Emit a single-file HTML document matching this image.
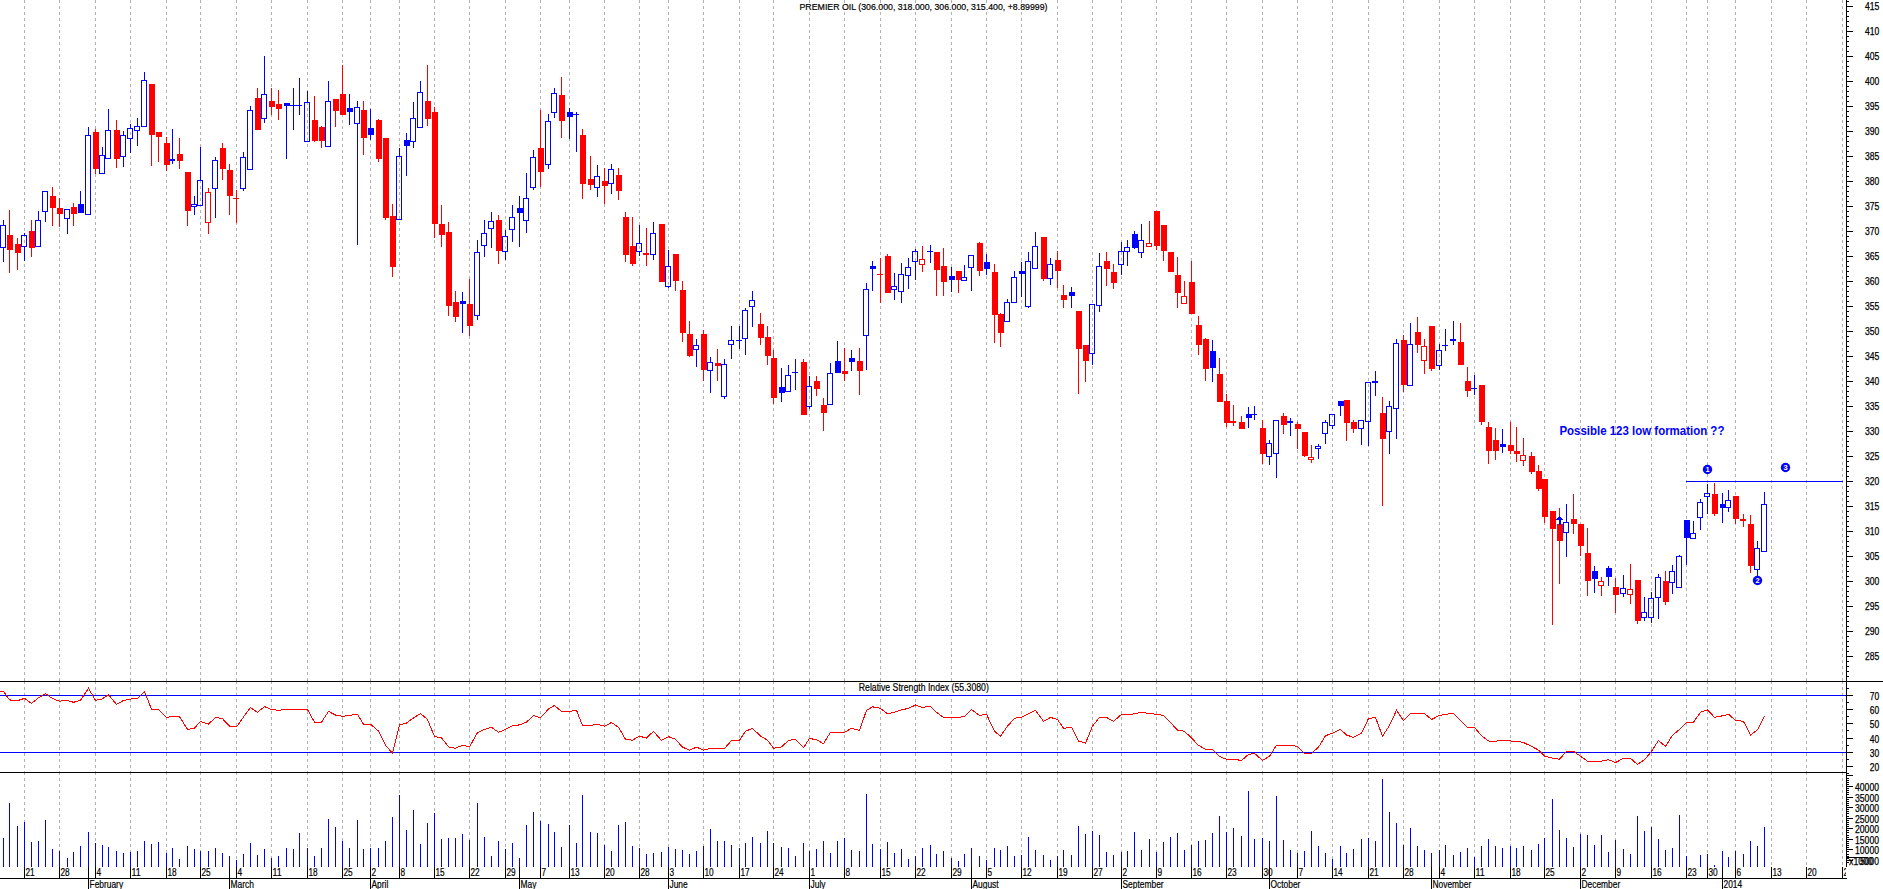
<!DOCTYPE html><html><head><meta charset="utf-8"><title>PREMIER OIL</title><style>html,body{margin:0;padding:0;background:#fff}svg{display:block}</style></head><body><svg width="1883" height="889" viewBox="0 0 1883 889" shape-rendering="crispEdges"><rect width="1883" height="889" fill="#fff"/><path d="M24.5 0V681M24.5 681V772M24.5 772V867 M59.5 0V681M59.5 681V772M59.5 772V867 M95.5 0V681M95.5 681V772M95.5 772V867 M130.5 0V681M130.5 681V772M130.5 772V867 M166.5 0V681M166.5 681V772M166.5 772V867 M200.5 0V681M200.5 681V772M200.5 772V867 M236.5 0V681M236.5 681V772M236.5 772V867 M271.5 0V681M271.5 681V772M271.5 772V867 M307.5 0V681M307.5 681V772M307.5 772V867 M342.5 0V681M342.5 681V772M342.5 772V867 M370.5 0V681M370.5 681V772M370.5 772V867 M399.5 0V681M399.5 681V772M399.5 772V867 M434.5 0V681M434.5 681V772M434.5 772V867 M469.5 0V681M469.5 681V772M469.5 772V867 M505.5 0V681M505.5 681V772M505.5 772V867 M540.5 0V681M540.5 681V772M540.5 772V867 M569.5 0V681M569.5 681V772M569.5 772V867 M604.5 0V681M604.5 681V772M604.5 772V867 M639.5 0V681M639.5 681V772M639.5 772V867 M668.5 0V681M668.5 681V772M668.5 772V867 M703.5 0V681M703.5 681V772M703.5 772V867 M739.5 0V681M739.5 681V772M739.5 772V867 M773.5 0V681M773.5 681V772M773.5 772V867 M809.5 0V681M809.5 681V772M809.5 772V867 M844.5 0V681M844.5 681V772M844.5 772V867 M880.5 0V681M880.5 681V772M880.5 772V867 M915.5 0V681M915.5 681V772M915.5 772V867 M951.5 0V681M951.5 681V772M951.5 772V867 M986.5 0V681M986.5 681V772M986.5 772V867 M1021.5 0V681M1021.5 681V772M1021.5 772V867 M1057.5 0V681M1057.5 681V772M1057.5 772V867 M1092.5 0V681M1092.5 681V772M1092.5 772V867 M1121.5 0V681M1121.5 681V772M1121.5 772V867 M1156.5 0V681M1156.5 681V772M1156.5 772V867 M1191.5 0V681M1191.5 681V772M1191.5 772V867 M1226.5 0V681M1226.5 681V772M1226.5 772V867 M1262.5 0V681M1262.5 681V772M1262.5 772V867 M1297.5 0V681M1297.5 681V772M1297.5 772V867 M1332.5 0V681M1332.5 681V772M1332.5 772V867 M1368.5 0V681M1368.5 681V772M1368.5 772V867 M1403.5 0V681M1403.5 681V772M1403.5 772V867 M1439.5 0V681M1439.5 681V772M1439.5 772V867 M1474.5 0V681M1474.5 681V772M1474.5 772V867 M1510.5 0V681M1510.5 681V772M1510.5 772V867 M1544.5 0V681M1544.5 681V772M1544.5 772V867 M1580.5 0V681M1580.5 681V772M1580.5 772V867 M1615.5 0V681M1615.5 681V772M1615.5 772V867 M1651.5 0V681M1651.5 681V772M1651.5 772V867 M1686.5 0V681M1686.5 681V772M1686.5 772V867 M1707.5 0V681M1707.5 681V772M1707.5 772V867 M1735.5 0V681M1735.5 681V772M1735.5 772V867 M1771.5 0V681M1771.5 681V772M1771.5 772V867 M1806.5 0V681M1806.5 681V772M1806.5 772V867 M1842.5 0V681M1842.5 681V772M1842.5 772V867" stroke="#b2b2b2" stroke-width="1" stroke-dasharray="3 3" fill="none"/><path d="M3.5 838V867 M9.5 803V867 M17.5 826V867 M24.5 822V867 M31.5 842V867 M38.5 841V867 M45.5 820V867 M52.5 849V867 M59.5 851V867 M67.5 858V867 M73.5 852V867 M80.5 846V867 M88.5 832V867 M95.5 843V867 M102.5 845V867 M108.5 847V867 M116.5 851V867 M123.5 853V867 M130.5 852V867 M137.5 851V867 M144.5 841V867 M151.5 844V867 M158.5 842V867 M166.5 853V867 M172.5 848V867 M179.5 859V867 M187.5 846V867 M194.5 849V867 M200.5 851V867 M208.5 851V867 M215.5 848V867 M222.5 853V867 M229.5 856V867 M236.5 860V867 M243.5 854V867 M250.5 843V867 M257.5 855V867 M264.5 849V867 M271.5 858V867 M278.5 856V867 M286.5 848V867 M293.5 849V867 M299.5 833V867 M307.5 848V867 M314.5 856V867 M321.5 848V867 M328.5 819V867 M335.5 827V867 M342.5 841V867 M349.5 848V867 M357.5 820V867 M363.5 849V867 M370.5 848V867 M378.5 848V867 M385.5 841V867 M392.5 817V867 M399.5 795V867 M406.5 830V867 M413.5 810V867 M420.5 844V867 M427.5 823V867 M434.5 813V867 M441.5 839V867 M448.5 838V867 M455.5 838V867 M462.5 834V867 M469.5 840V867 M477.5 803V867 M484.5 837V867 M491.5 856V867 M498.5 841V867 M505.5 849V867 M512.5 843V867 M519.5 858V867 M526.5 825V867 M533.5 812V867 M540.5 821V867 M548.5 824V867 M554.5 832V867 M561.5 847V867 M569.5 825V867 M576.5 843V867 M582.5 795V867 M590.5 832V867 M597.5 833V867 M604.5 845V867 M611.5 851V867 M618.5 825V867 M625.5 822V867 M632.5 846V867 M639.5 848V867 M646.5 854V867 M653.5 853V867 M661.5 852V867 M668.5 847V867 M675.5 849V867 M682.5 850V867 M689.5 854V867 M696.5 851V867 M703.5 846V867 M710.5 829V867 M717.5 841V867 M724.5 841V867 M731.5 845V867 M739.5 848V867 M745.5 843V867 M752.5 837V867 M760.5 843V867 M767.5 831V867 M773.5 843V867 M781.5 847V867 M788.5 848V867 M795.5 856V867 M803.5 843V867 M809.5 851V867 M816.5 849V867 M823.5 841V867 M830.5 853V867 M837.5 841V867 M844.5 838V867 M851.5 850V867 M859.5 851V867 M866.5 794V867 M872.5 844V867 M880.5 849V867 M887.5 842V867 M894.5 853V867 M901.5 849V867 M908.5 859V867 M915.5 856V867 M922.5 848V867 M930.5 845V867 M936.5 854V867 M943.5 851V867 M951.5 858V867 M958.5 861V867 M964.5 854V867 M971.5 848V867 M979.5 856V867 M986.5 860V867 M994.5 848V867 M1000.5 850V867 M1007.5 846V867 M1014.5 856V867 M1021.5 855V867 M1028.5 837V867 M1035.5 850V867 M1043.5 855V867 M1050.5 860V867 M1057.5 856V867 M1063.5 850V867 M1071.5 855V867 M1078.5 826V867 M1085.5 834V867 M1092.5 831V867 M1099.5 835V867 M1106.5 852V867 M1113.5 855V867 M1121.5 852V867 M1127.5 851V867 M1134.5 832V867 M1141.5 850V867 M1149.5 839V867 M1156.5 852V867 M1163.5 842V867 M1170.5 837V867 M1177.5 833V867 M1184.5 850V867 M1191.5 845V867 M1198.5 841V867 M1205.5 840V867 M1212.5 833V867 M1219.5 816V867 M1226.5 832V867 M1233.5 828V867 M1241.5 836V867 M1248.5 791V867 M1254.5 839V867 M1262.5 838V867 M1269.5 841V867 M1276.5 796V867 M1283.5 840V867 M1290.5 850V867 M1297.5 853V867 M1304.5 851V867 M1311.5 831V867 M1318.5 846V867 M1325.5 853V867 M1332.5 859V867 M1340.5 846V867 M1346.5 853V867 M1353.5 849V867 M1361.5 839V867 M1368.5 838V867 M1375.5 841V867 M1382.5 779V867 M1389.5 812V867 M1396.5 823V867 M1403.5 845V867 M1410.5 828V867 M1417.5 846V867 M1424.5 850V867 M1431.5 853V867 M1439.5 850V867 M1445.5 845V867 M1453.5 855V867 M1460.5 852V867 M1467.5 848V867 M1474.5 857V867 M1481.5 846V867 M1488.5 839V867 M1495.5 846V867 M1502.5 848V867 M1510.5 846V867 M1516.5 848V867 M1523.5 846V867 M1531.5 850V867 M1538.5 844V867 M1544.5 838V867 M1552.5 799V867 M1559.5 830V867 M1566.5 838V867 M1573.5 847V867 M1580.5 834V867 M1587.5 835V867 M1594.5 845V867 M1601.5 835V867 M1608.5 852V867 M1615.5 840V867 M1623.5 849V867 M1630.5 854V867 M1637.5 816V867 M1644.5 831V867 M1651.5 827V867 M1658.5 839V867 M1665.5 850V867 M1672.5 848V867 M1679.5 815V867 M1686.5 856V867 M1700.5 855V867 M1707.5 854V867 M1714.5 865V867 M1722.5 851V867 M1728.5 857V867 M1735.5 851V867 M1743.5 854V867 M1750.5 841V867 M1757.5 846V867 M1764.5 827V867" stroke="#0000ff" stroke-width="1" fill="none"/><rect x="0" y="695" width="1846" height="1" fill="#0000ff"/><rect x="0" y="752" width="1846" height="1" fill="#0000ff"/><polyline points="0,691.5 3.5,691.5 9.5,699.9 17.5,700.7 24.5,698.3 31.5,703.4 38.5,697.8 45.5,693.5 52.5,698.6 59.5,701.2 67.5,700.4 73.5,702.3 80.5,700.4 88.5,688.3 95.5,700.4 102.5,698.8 108.5,694.7 116.5,704.4 123.5,700.4 130.5,699.1 137.5,698.3 144.5,691.5 151.5,709.2 158.5,709.5 166.5,717.4 172.5,716.3 179.5,716.6 187.5,729.4 194.5,728.1 200.5,721.4 208.5,724.1 215.5,717.4 222.5,718.7 229.5,726.2 236.5,727.0 243.5,717.0 250.5,707.6 257.5,712.3 264.5,706.6 271.5,709.5 278.5,710.3 286.5,709.5 293.5,709.5 299.5,709.5 307.5,709.5 314.5,722.2 321.5,722.2 328.5,711.4 335.5,715.0 342.5,716.3 349.5,715.4 357.5,714.3 363.5,724.3 370.5,724.3 378.5,731.0 385.5,745.3 392.5,753.3 399.5,724.9 406.5,723.0 413.5,717.9 420.5,713.5 427.5,719.5 434.5,736.6 441.5,737.7 448.5,746.9 455.5,748.2 462.5,745.3 469.5,746.9 477.5,732.6 484.5,729.4 491.5,727.3 498.5,732.3 505.5,729.4 512.5,725.7 519.5,724.9 526.5,722.2 533.5,715.4 540.5,717.8 548.5,709.0 554.5,705.5 561.5,711.4 569.5,711.4 576.5,710.3 582.5,725.4 590.5,725.4 597.5,724.3 604.5,726.2 611.5,722.5 618.5,727.3 625.5,739.3 632.5,740.2 639.5,736.2 646.5,738.1 653.5,731.3 661.5,740.5 668.5,736.6 675.5,739.3 682.5,747.2 689.5,750.1 696.5,747.2 703.5,750.1 710.5,748.5 717.5,748.5 724.5,748.5 731.5,740.5 739.5,740.2 745.5,731.3 752.5,728.3 760.5,736.1 767.5,740.2 773.5,748.2 781.5,746.9 788.5,740.5 795.5,739.3 803.5,747.7 809.5,738.5 816.5,739.7 823.5,743.7 830.5,732.3 837.5,732.3 844.5,732.3 851.5,728.3 859.5,730.5 866.5,710.3 872.5,706.8 880.5,708.4 887.5,713.9 894.5,712.3 901.5,709.8 908.5,708.4 915.5,705.0 922.5,707.4 930.5,706.3 936.5,712.3 943.5,717.4 951.5,717.4 958.5,717.4 964.5,716.3 971.5,709.5 979.5,715.4 986.5,714.3 994.5,731.3 1000.5,736.2 1007.5,726.2 1014.5,718.2 1021.5,717.4 1028.5,713.9 1035.5,710.3 1043.5,721.4 1050.5,717.4 1057.5,719.5 1063.5,728.3 1071.5,727.3 1078.5,741.0 1085.5,743.2 1092.5,726.2 1099.5,717.4 1106.5,717.4 1113.5,721.4 1121.5,714.3 1127.5,714.3 1134.5,713.9 1141.5,712.3 1149.5,713.5 1156.5,714.3 1163.5,715.4 1170.5,722.5 1177.5,730.2 1184.5,731.3 1191.5,738.1 1198.5,745.3 1205.5,749.3 1212.5,749.3 1219.5,756.5 1226.5,759.2 1233.5,759.2 1241.5,760.5 1248.5,754.4 1254.5,753.3 1262.5,760.5 1269.5,756.2 1276.5,745.3 1283.5,745.3 1290.5,745.3 1297.5,746.4 1304.5,753.3 1311.5,753.3 1318.5,747.2 1325.5,735.8 1332.5,733.1 1340.5,729.4 1346.5,735.0 1353.5,737.4 1361.5,733.1 1368.5,718.6 1375.5,717.4 1382.5,736.2 1389.5,725.4 1396.5,710.3 1403.5,720.6 1410.5,713.5 1417.5,713.5 1424.5,713.5 1431.5,719.5 1439.5,715.4 1445.5,714.3 1453.5,713.5 1460.5,720.6 1467.5,727.3 1474.5,727.3 1481.5,735.8 1488.5,741.0 1495.5,741.3 1502.5,740.2 1510.5,741.0 1516.5,741.3 1523.5,742.5 1531.5,746.4 1538.5,750.1 1544.5,756.2 1552.5,758.1 1559.5,759.2 1566.5,751.4 1573.5,751.4 1580.5,756.2 1587.5,761.2 1594.5,761.2 1601.5,761.2 1608.5,759.7 1615.5,762.5 1623.5,758.4 1630.5,758.4 1637.5,764.4 1644.5,759.7 1651.5,751.4 1658.5,740.5 1665.5,746.4 1672.5,735.3 1679.5,729.4 1686.5,722.5 1693.5,722.2 1700.5,712.3 1707.5,709.8 1714.5,717.4 1722.5,715.8 1728.5,714.3 1735.5,720.3 1743.5,721.4 1750.5,735.0 1757.5,729.7 1764.5,716.2" stroke="#ff0000" stroke-width="1" fill="none" shape-rendering="crispEdges"/><rect x="3" y="220" width="1" height="5" fill="#0000ff"/><rect x="3" y="248" width="1" height="14" fill="#0000ff"/><rect x="0.5" y="225.5" width="5" height="22" fill="none" stroke="#0000ff" stroke-width="1"/><rect x="9" y="210" width="1" height="63" fill="#ff0000"/><rect x="7" y="235" width="6" height="15" fill="#ff0000"/><rect x="17" y="238" width="1" height="32" fill="#ff0000"/><rect x="15" y="244" width="6" height="9" fill="#ff0000"/><rect x="24" y="233" width="1" height="2" fill="#0000ff"/><rect x="24" y="247" width="1" height="14" fill="#0000ff"/><rect x="21.5" y="235.5" width="5" height="11" fill="none" stroke="#0000ff" stroke-width="1"/><rect x="31" y="220" width="1" height="37" fill="#ff0000"/><rect x="29" y="231" width="6" height="17" fill="#ff0000"/><rect x="38" y="211" width="1" height="9" fill="#0000ff"/><rect x="35.5" y="220.5" width="5" height="26" fill="none" stroke="#0000ff" stroke-width="1"/><rect x="45" y="212" width="1" height="10" fill="#0000ff"/><rect x="42.5" y="191.5" width="5" height="20" fill="none" stroke="#0000ff" stroke-width="1"/><rect x="52" y="187" width="1" height="39" fill="#ff0000"/><rect x="50" y="196" width="6" height="12" fill="#ff0000"/><rect x="59" y="198" width="1" height="29" fill="#ff0000"/><rect x="57" y="208" width="6" height="6" fill="#ff0000"/><rect x="67" y="219" width="1" height="15" fill="#0000ff"/><rect x="64.5" y="209.5" width="5" height="9" fill="none" stroke="#0000ff" stroke-width="1"/><rect x="73" y="203" width="1" height="23" fill="#ff0000"/><rect x="71" y="207" width="6" height="7" fill="#ff0000"/><rect x="80" y="191" width="1" height="22" fill="#0000ff"/><rect x="78" y="204" width="6" height="9" fill="#0000ff"/><rect x="88" y="127" width="1" height="8" fill="#0000ff"/><rect x="85.5" y="135.5" width="5" height="79" fill="none" stroke="#0000ff" stroke-width="1"/><rect x="95" y="129" width="1" height="45" fill="#ff0000"/><rect x="93" y="132" width="6" height="37" fill="#ff0000"/><rect x="102" y="147" width="1" height="8" fill="#0000ff"/><rect x="99.5" y="155.5" width="5" height="18" fill="none" stroke="#0000ff" stroke-width="1"/><rect x="108" y="109" width="1" height="21" fill="#0000ff"/><rect x="105.5" y="130.5" width="5" height="28" fill="none" stroke="#0000ff" stroke-width="1"/><rect x="116" y="120" width="1" height="48" fill="#ff0000"/><rect x="114" y="130" width="6" height="29" fill="#ff0000"/><rect x="123" y="131" width="1" height="4" fill="#0000ff"/><rect x="123" y="157" width="1" height="10" fill="#0000ff"/><rect x="120.5" y="135.5" width="5" height="21" fill="none" stroke="#0000ff" stroke-width="1"/><rect x="130" y="124" width="1" height="4" fill="#0000ff"/><rect x="130" y="139" width="1" height="14" fill="#0000ff"/><rect x="127.5" y="128.5" width="5" height="10" fill="none" stroke="#0000ff" stroke-width="1"/><rect x="137" y="118" width="1" height="8" fill="#0000ff"/><rect x="137" y="131" width="1" height="15" fill="#0000ff"/><rect x="134.5" y="126.5" width="5" height="4" fill="none" stroke="#0000ff" stroke-width="1"/><rect x="144" y="72" width="1" height="8" fill="#0000ff"/><rect x="141.5" y="80.5" width="5" height="46" fill="none" stroke="#0000ff" stroke-width="1"/><rect x="151" y="84" width="1" height="82" fill="#ff0000"/><rect x="149" y="84" width="6" height="51" fill="#ff0000"/><rect x="158" y="132" width="1" height="30" fill="#ff0000"/><rect x="156" y="132" width="6" height="5" fill="#ff0000"/><rect x="166" y="137" width="1" height="34" fill="#ff0000"/><rect x="164" y="143" width="6" height="22" fill="#ff0000"/><rect x="172" y="129" width="1" height="35" fill="#0000ff"/><rect x="169" y="159" width="6" height="2" fill="#0000ff"/><rect x="179" y="138" width="1" height="31" fill="#ff0000"/><rect x="177" y="154" width="6" height="7" fill="#ff0000"/><rect x="187" y="172" width="1" height="54" fill="#ff0000"/><rect x="185" y="172" width="6" height="39" fill="#ff0000"/><rect x="194" y="196" width="1" height="8" fill="#0000ff"/><rect x="194" y="207" width="1" height="8" fill="#0000ff"/><rect x="191.5" y="204.5" width="5" height="2" fill="none" stroke="#0000ff" stroke-width="1"/><rect x="200" y="147" width="1" height="33" fill="#0000ff"/><rect x="197.5" y="180.5" width="5" height="25" fill="none" stroke="#0000ff" stroke-width="1"/><rect x="208" y="188" width="1" height="4" fill="#ff0000"/><rect x="208" y="223" width="1" height="11" fill="#ff0000"/><rect x="205.5" y="192.5" width="5" height="30" fill="none" stroke="#ff0000" stroke-width="1"/><rect x="215" y="157" width="1" height="3" fill="#0000ff"/><rect x="215" y="189" width="1" height="29" fill="#0000ff"/><rect x="212.5" y="160.5" width="5" height="28" fill="none" stroke="#0000ff" stroke-width="1"/><rect x="222" y="143" width="1" height="37" fill="#ff0000"/><rect x="220" y="148" width="6" height="21" fill="#ff0000"/><rect x="229" y="164" width="1" height="51" fill="#ff0000"/><rect x="227" y="170" width="6" height="26" fill="#ff0000"/><rect x="236" y="190" width="1" height="33" fill="#ff0000"/><rect x="233" y="198" width="6" height="1" fill="#ff0000"/><rect x="243" y="152" width="1" height="5" fill="#0000ff"/><rect x="243" y="189" width="1" height="2" fill="#0000ff"/><rect x="240.5" y="157.5" width="5" height="31" fill="none" stroke="#0000ff" stroke-width="1"/><rect x="250" y="106" width="1" height="4" fill="#0000ff"/><rect x="247.5" y="110.5" width="5" height="59" fill="none" stroke="#0000ff" stroke-width="1"/><rect x="257" y="88" width="1" height="42" fill="#ff0000"/><rect x="255" y="98" width="6" height="32" fill="#ff0000"/><rect x="264" y="56" width="1" height="38" fill="#0000ff"/><rect x="264" y="119" width="1" height="4" fill="#0000ff"/><rect x="261.5" y="94.5" width="5" height="24" fill="none" stroke="#0000ff" stroke-width="1"/><rect x="271" y="88" width="1" height="27" fill="#ff0000"/><rect x="269" y="101" width="6" height="6" fill="#ff0000"/><rect x="278" y="90" width="1" height="30" fill="#ff0000"/><rect x="276" y="104" width="6" height="5" fill="#ff0000"/><rect x="286" y="103" width="1" height="56" fill="#0000ff"/><rect x="284" y="103" width="6" height="3" fill="#0000ff"/><rect x="293" y="88" width="1" height="42" fill="#0000ff"/><rect x="290" y="105" width="6" height="1" fill="#0000ff"/><rect x="299" y="78" width="1" height="37" fill="#0000ff"/><rect x="296" y="105" width="6" height="1" fill="#0000ff"/><rect x="307" y="91" width="1" height="11" fill="#0000ff"/><rect x="304.5" y="102.5" width="5" height="39" fill="none" stroke="#0000ff" stroke-width="1"/><rect x="314" y="96" width="1" height="46" fill="#ff0000"/><rect x="312" y="120" width="6" height="21" fill="#ff0000"/><rect x="321" y="126" width="1" height="22" fill="#ff0000"/><rect x="319" y="127" width="6" height="14" fill="#ff0000"/><rect x="328" y="81" width="1" height="20" fill="#0000ff"/><rect x="325.5" y="101.5" width="5" height="45" fill="none" stroke="#0000ff" stroke-width="1"/><rect x="335" y="99" width="1" height="28" fill="#ff0000"/><rect x="333" y="99" width="6" height="12" fill="#ff0000"/><rect x="342" y="65" width="1" height="50" fill="#ff0000"/><rect x="340" y="94" width="6" height="21" fill="#ff0000"/><rect x="349" y="94" width="1" height="31" fill="#0000ff"/><rect x="347" y="108" width="6" height="4" fill="#0000ff"/><rect x="357" y="101" width="1" height="6" fill="#0000ff"/><rect x="357" y="124" width="1" height="121" fill="#0000ff"/><rect x="354.5" y="107.5" width="5" height="16" fill="none" stroke="#0000ff" stroke-width="1"/><rect x="363" y="101" width="1" height="54" fill="#ff0000"/><rect x="361" y="110" width="6" height="28" fill="#ff0000"/><rect x="370" y="109" width="1" height="31" fill="#0000ff"/><rect x="368" y="128" width="6" height="7" fill="#0000ff"/><rect x="378" y="119" width="1" height="43" fill="#ff0000"/><rect x="376" y="120" width="6" height="39" fill="#ff0000"/><rect x="385" y="138" width="1" height="82" fill="#ff0000"/><rect x="383" y="138" width="6" height="80" fill="#ff0000"/><rect x="392" y="204" width="1" height="73" fill="#ff0000"/><rect x="390" y="216" width="6" height="51" fill="#ff0000"/><rect x="399" y="148" width="1" height="8" fill="#0000ff"/><rect x="396.5" y="156.5" width="5" height="63" fill="none" stroke="#0000ff" stroke-width="1"/><rect x="406" y="133" width="1" height="43" fill="#0000ff"/><rect x="404" y="140" width="6" height="6" fill="#0000ff"/><rect x="413" y="102" width="1" height="16" fill="#0000ff"/><rect x="413" y="142" width="1" height="6" fill="#0000ff"/><rect x="410.5" y="118.5" width="5" height="23" fill="none" stroke="#0000ff" stroke-width="1"/><rect x="420" y="81" width="1" height="11" fill="#0000ff"/><rect x="417.5" y="92.5" width="5" height="35" fill="none" stroke="#0000ff" stroke-width="1"/><rect x="427" y="65" width="1" height="61" fill="#ff0000"/><rect x="425" y="101" width="6" height="18" fill="#ff0000"/><rect x="434" y="107" width="1" height="131" fill="#ff0000"/><rect x="432" y="112" width="6" height="112" fill="#ff0000"/><rect x="441" y="205" width="1" height="42" fill="#ff0000"/><rect x="439" y="224" width="6" height="11" fill="#ff0000"/><rect x="448" y="222" width="1" height="94" fill="#ff0000"/><rect x="446" y="232" width="6" height="74" fill="#ff0000"/><rect x="455" y="291" width="1" height="31" fill="#ff0000"/><rect x="453" y="302" width="6" height="15" fill="#ff0000"/><rect x="462" y="292" width="1" height="41" fill="#0000ff"/><rect x="460" y="301" width="6" height="3" fill="#0000ff"/><rect x="469" y="279" width="1" height="57" fill="#ff0000"/><rect x="467" y="304" width="6" height="22" fill="#ff0000"/><rect x="477" y="240" width="1" height="12" fill="#0000ff"/><rect x="477" y="316" width="1" height="4" fill="#0000ff"/><rect x="474.5" y="252.5" width="5" height="63" fill="none" stroke="#0000ff" stroke-width="1"/><rect x="484" y="220" width="1" height="13" fill="#0000ff"/><rect x="484" y="246" width="1" height="11" fill="#0000ff"/><rect x="481.5" y="233.5" width="5" height="12" fill="none" stroke="#0000ff" stroke-width="1"/><rect x="491" y="212" width="1" height="9" fill="#0000ff"/><rect x="491" y="229" width="1" height="19" fill="#0000ff"/><rect x="488.5" y="221.5" width="5" height="7" fill="none" stroke="#0000ff" stroke-width="1"/><rect x="498" y="215" width="1" height="49" fill="#ff0000"/><rect x="496" y="220" width="6" height="31" fill="#ff0000"/><rect x="505" y="230" width="1" height="6" fill="#0000ff"/><rect x="505" y="252" width="1" height="8" fill="#0000ff"/><rect x="502.5" y="236.5" width="5" height="15" fill="none" stroke="#0000ff" stroke-width="1"/><rect x="512" y="205" width="1" height="12" fill="#0000ff"/><rect x="512" y="230" width="1" height="12" fill="#0000ff"/><rect x="509.5" y="217.5" width="5" height="12" fill="none" stroke="#0000ff" stroke-width="1"/><rect x="519" y="196" width="1" height="51" fill="#0000ff"/><rect x="517" y="208" width="6" height="5" fill="#0000ff"/><rect x="526" y="173" width="1" height="25" fill="#0000ff"/><rect x="526" y="221" width="1" height="12" fill="#0000ff"/><rect x="523.5" y="198.5" width="5" height="22" fill="none" stroke="#0000ff" stroke-width="1"/><rect x="533" y="150" width="1" height="7" fill="#0000ff"/><rect x="533" y="188" width="1" height="2" fill="#0000ff"/><rect x="530.5" y="157.5" width="5" height="30" fill="none" stroke="#0000ff" stroke-width="1"/><rect x="540" y="110" width="1" height="77" fill="#ff0000"/><rect x="538" y="148" width="6" height="24" fill="#ff0000"/><rect x="548" y="114" width="1" height="7" fill="#0000ff"/><rect x="548" y="165" width="1" height="4" fill="#0000ff"/><rect x="545.5" y="121.5" width="5" height="43" fill="none" stroke="#0000ff" stroke-width="1"/><rect x="554" y="88" width="1" height="5" fill="#0000ff"/><rect x="554" y="113" width="1" height="5" fill="#0000ff"/><rect x="551.5" y="93.5" width="5" height="19" fill="none" stroke="#0000ff" stroke-width="1"/><rect x="561" y="77" width="1" height="61" fill="#ff0000"/><rect x="559" y="95" width="6" height="26" fill="#ff0000"/><rect x="569" y="108" width="1" height="31" fill="#0000ff"/><rect x="567" y="112" width="6" height="5" fill="#0000ff"/><rect x="576" y="112" width="1" height="40" fill="#0000ff"/><rect x="573" y="114" width="6" height="1" fill="#0000ff"/><rect x="582" y="129" width="1" height="70" fill="#ff0000"/><rect x="580" y="135" width="6" height="49" fill="#ff0000"/><rect x="590" y="156" width="1" height="34" fill="#ff0000"/><rect x="588" y="179" width="6" height="6" fill="#ff0000"/><rect x="597" y="165" width="1" height="11" fill="#0000ff"/><rect x="597" y="188" width="1" height="9" fill="#0000ff"/><rect x="594.5" y="176.5" width="5" height="11" fill="none" stroke="#0000ff" stroke-width="1"/><rect x="604" y="168" width="1" height="36" fill="#ff0000"/><rect x="602" y="181" width="6" height="5" fill="#ff0000"/><rect x="611" y="164" width="1" height="5" fill="#0000ff"/><rect x="611" y="184" width="1" height="10" fill="#0000ff"/><rect x="608.5" y="169.5" width="5" height="14" fill="none" stroke="#0000ff" stroke-width="1"/><rect x="618" y="168" width="1" height="32" fill="#ff0000"/><rect x="616" y="175" width="6" height="16" fill="#ff0000"/><rect x="625" y="212" width="1" height="50" fill="#ff0000"/><rect x="623" y="217" width="6" height="38" fill="#ff0000"/><rect x="632" y="217" width="1" height="49" fill="#ff0000"/><rect x="630" y="246" width="6" height="18" fill="#ff0000"/><rect x="639" y="225" width="1" height="18" fill="#0000ff"/><rect x="639" y="252" width="1" height="4" fill="#0000ff"/><rect x="636.5" y="243.5" width="5" height="8" fill="none" stroke="#0000ff" stroke-width="1"/><rect x="646" y="228" width="1" height="38" fill="#ff0000"/><rect x="643" y="253" width="6" height="2" fill="#ff0000"/><rect x="653" y="222" width="1" height="11" fill="#0000ff"/><rect x="653" y="255" width="1" height="5" fill="#0000ff"/><rect x="650.5" y="233.5" width="5" height="21" fill="none" stroke="#0000ff" stroke-width="1"/><rect x="661" y="224" width="1" height="58" fill="#ff0000"/><rect x="659" y="224" width="6" height="58" fill="#ff0000"/><rect x="668" y="250" width="1" height="16" fill="#0000ff"/><rect x="668" y="287" width="1" height="1" fill="#0000ff"/><rect x="665.5" y="266.5" width="5" height="20" fill="none" stroke="#0000ff" stroke-width="1"/><rect x="675" y="254" width="1" height="37" fill="#ff0000"/><rect x="673" y="254" width="6" height="27" fill="#ff0000"/><rect x="682" y="281" width="1" height="61" fill="#ff0000"/><rect x="680" y="290" width="6" height="43" fill="#ff0000"/><rect x="689" y="321" width="1" height="36" fill="#ff0000"/><rect x="687" y="334" width="6" height="22" fill="#ff0000"/><rect x="696" y="339" width="1" height="6" fill="#0000ff"/><rect x="696" y="350" width="1" height="17" fill="#0000ff"/><rect x="693.5" y="345.5" width="5" height="4" fill="none" stroke="#0000ff" stroke-width="1"/><rect x="703" y="330" width="1" height="51" fill="#ff0000"/><rect x="701" y="334" width="6" height="36" fill="#ff0000"/><rect x="710" y="357" width="1" height="5" fill="#0000ff"/><rect x="710" y="371" width="1" height="22" fill="#0000ff"/><rect x="707.5" y="362.5" width="5" height="8" fill="none" stroke="#0000ff" stroke-width="1"/><rect x="717" y="349" width="1" height="32" fill="#ff0000"/><rect x="715" y="363" width="6" height="3" fill="#ff0000"/><rect x="724" y="359" width="1" height="5" fill="#0000ff"/><rect x="724" y="397" width="1" height="2" fill="#0000ff"/><rect x="721.5" y="364.5" width="5" height="32" fill="none" stroke="#0000ff" stroke-width="1"/><rect x="731" y="326" width="1" height="14" fill="#0000ff"/><rect x="731" y="345" width="1" height="14" fill="#0000ff"/><rect x="728.5" y="340.5" width="5" height="4" fill="none" stroke="#0000ff" stroke-width="1"/><rect x="739" y="326" width="1" height="23" fill="#0000ff"/><rect x="736" y="340" width="6" height="1" fill="#0000ff"/><rect x="745" y="308" width="1" height="2" fill="#0000ff"/><rect x="745" y="339" width="1" height="16" fill="#0000ff"/><rect x="742.5" y="310.5" width="5" height="28" fill="none" stroke="#0000ff" stroke-width="1"/><rect x="752" y="291" width="1" height="9" fill="#0000ff"/><rect x="752" y="307" width="1" height="20" fill="#0000ff"/><rect x="749.5" y="300.5" width="5" height="6" fill="none" stroke="#0000ff" stroke-width="1"/><rect x="760" y="313" width="1" height="32" fill="#ff0000"/><rect x="758" y="324" width="6" height="14" fill="#ff0000"/><rect x="767" y="326" width="1" height="39" fill="#ff0000"/><rect x="765" y="337" width="6" height="19" fill="#ff0000"/><rect x="773" y="350" width="1" height="54" fill="#ff0000"/><rect x="771" y="358" width="6" height="40" fill="#ff0000"/><rect x="781" y="368" width="1" height="34" fill="#0000ff"/><rect x="779" y="387" width="6" height="6" fill="#0000ff"/><rect x="788" y="365" width="1" height="10" fill="#0000ff"/><rect x="785.5" y="375.5" width="5" height="16" fill="none" stroke="#0000ff" stroke-width="1"/><rect x="795" y="359" width="1" height="31" fill="#0000ff"/><rect x="792" y="372" width="6" height="1" fill="#0000ff"/><rect x="803" y="359" width="1" height="56" fill="#ff0000"/><rect x="801" y="362" width="6" height="53" fill="#ff0000"/><rect x="809" y="376" width="1" height="10" fill="#0000ff"/><rect x="809" y="407" width="1" height="2" fill="#0000ff"/><rect x="806.5" y="386.5" width="5" height="20" fill="none" stroke="#0000ff" stroke-width="1"/><rect x="816" y="376" width="1" height="20" fill="#ff0000"/><rect x="814" y="381" width="6" height="8" fill="#ff0000"/><rect x="823" y="398" width="1" height="33" fill="#ff0000"/><rect x="821" y="405" width="6" height="8" fill="#ff0000"/><rect x="830" y="363" width="1" height="10" fill="#0000ff"/><rect x="827.5" y="373.5" width="5" height="31" fill="none" stroke="#0000ff" stroke-width="1"/><rect x="837" y="341" width="1" height="32" fill="#0000ff"/><rect x="835" y="361" width="6" height="12" fill="#0000ff"/><rect x="844" y="348" width="1" height="33" fill="#ff0000"/><rect x="842" y="371" width="6" height="3" fill="#ff0000"/><rect x="851" y="350" width="1" height="21" fill="#0000ff"/><rect x="849" y="358" width="6" height="4" fill="#0000ff"/><rect x="859" y="348" width="1" height="47" fill="#ff0000"/><rect x="857" y="361" width="6" height="10" fill="#ff0000"/><rect x="866" y="283" width="1" height="6" fill="#0000ff"/><rect x="866" y="336" width="1" height="34" fill="#0000ff"/><rect x="863.5" y="289.5" width="5" height="46" fill="none" stroke="#0000ff" stroke-width="1"/><rect x="872" y="261" width="1" height="30" fill="#0000ff"/><rect x="870" y="266" width="6" height="3" fill="#0000ff"/><rect x="880" y="258" width="1" height="45" fill="#ff0000"/><rect x="877" y="274" width="6" height="1" fill="#ff0000"/><rect x="887" y="254" width="1" height="39" fill="#ff0000"/><rect x="885" y="256" width="6" height="37" fill="#ff0000"/><rect x="894" y="273" width="1" height="13" fill="#0000ff"/><rect x="894" y="290" width="1" height="10" fill="#0000ff"/><rect x="891.5" y="286.5" width="5" height="3" fill="none" stroke="#0000ff" stroke-width="1"/><rect x="901" y="263" width="1" height="11" fill="#0000ff"/><rect x="901" y="292" width="1" height="11" fill="#0000ff"/><rect x="898.5" y="274.5" width="5" height="17" fill="none" stroke="#0000ff" stroke-width="1"/><rect x="908" y="258" width="1" height="9" fill="#0000ff"/><rect x="908" y="276" width="1" height="13" fill="#0000ff"/><rect x="905.5" y="267.5" width="5" height="8" fill="none" stroke="#0000ff" stroke-width="1"/><rect x="915" y="249" width="1" height="2" fill="#0000ff"/><rect x="915" y="262" width="1" height="18" fill="#0000ff"/><rect x="912.5" y="251.5" width="5" height="10" fill="none" stroke="#0000ff" stroke-width="1"/><rect x="922" y="246" width="1" height="13" fill="#ff0000"/><rect x="922" y="265" width="1" height="7" fill="#ff0000"/><rect x="919.5" y="259.5" width="5" height="5" fill="none" stroke="#ff0000" stroke-width="1"/><rect x="930" y="245" width="1" height="18" fill="#0000ff"/><rect x="927" y="251" width="6" height="1" fill="#0000ff"/><rect x="936" y="252" width="1" height="44" fill="#ff0000"/><rect x="934" y="252" width="6" height="18" fill="#ff0000"/><rect x="943" y="248" width="1" height="48" fill="#ff0000"/><rect x="941" y="266" width="6" height="16" fill="#ff0000"/><rect x="951" y="267" width="1" height="25" fill="#0000ff"/><rect x="949" y="276" width="6" height="4" fill="#0000ff"/><rect x="958" y="271" width="1" height="22" fill="#ff0000"/><rect x="956" y="271" width="6" height="9" fill="#ff0000"/><rect x="964" y="265" width="1" height="12" fill="#0000ff"/><rect x="961.5" y="277.5" width="5" height="3" fill="none" stroke="#0000ff" stroke-width="1"/><rect x="971" y="268" width="1" height="23" fill="#0000ff"/><rect x="968.5" y="255.5" width="5" height="12" fill="none" stroke="#0000ff" stroke-width="1"/><rect x="979" y="242" width="1" height="34" fill="#ff0000"/><rect x="977" y="243" width="6" height="28" fill="#ff0000"/><rect x="986" y="254" width="1" height="21" fill="#0000ff"/><rect x="984" y="262" width="6" height="7" fill="#0000ff"/><rect x="994" y="264" width="1" height="79" fill="#ff0000"/><rect x="992" y="272" width="6" height="43" fill="#ff0000"/><rect x="1000" y="313" width="1" height="34" fill="#ff0000"/><rect x="998" y="314" width="6" height="19" fill="#ff0000"/><rect x="1007" y="299" width="1" height="3" fill="#0000ff"/><rect x="1004.5" y="302.5" width="5" height="19" fill="none" stroke="#0000ff" stroke-width="1"/><rect x="1014" y="271" width="1" height="6" fill="#0000ff"/><rect x="1011.5" y="277.5" width="5" height="25" fill="none" stroke="#0000ff" stroke-width="1"/><rect x="1021" y="262" width="1" height="35" fill="#0000ff"/><rect x="1019" y="271" width="6" height="3" fill="#0000ff"/><rect x="1028" y="252" width="1" height="9" fill="#0000ff"/><rect x="1028" y="307" width="1" height="1" fill="#0000ff"/><rect x="1025.5" y="261.5" width="5" height="45" fill="none" stroke="#0000ff" stroke-width="1"/><rect x="1035" y="232" width="1" height="14" fill="#0000ff"/><rect x="1032.5" y="246.5" width="5" height="22" fill="none" stroke="#0000ff" stroke-width="1"/><rect x="1043" y="237" width="1" height="44" fill="#ff0000"/><rect x="1041" y="237" width="6" height="42" fill="#ff0000"/><rect x="1050" y="258" width="1" height="6" fill="#0000ff"/><rect x="1050" y="279" width="1" height="6" fill="#0000ff"/><rect x="1047.5" y="264.5" width="5" height="14" fill="none" stroke="#0000ff" stroke-width="1"/><rect x="1057" y="251" width="1" height="37" fill="#ff0000"/><rect x="1055" y="260" width="6" height="11" fill="#ff0000"/><rect x="1063" y="285" width="1" height="23" fill="#ff0000"/><rect x="1061" y="295" width="6" height="5" fill="#ff0000"/><rect x="1071" y="287" width="1" height="21" fill="#0000ff"/><rect x="1069" y="292" width="6" height="4" fill="#0000ff"/><rect x="1078" y="311" width="1" height="83" fill="#ff0000"/><rect x="1076" y="311" width="6" height="38" fill="#ff0000"/><rect x="1085" y="345" width="1" height="37" fill="#ff0000"/><rect x="1083" y="345" width="6" height="16" fill="#ff0000"/><rect x="1092" y="354" width="1" height="11" fill="#0000ff"/><rect x="1089.5" y="304.5" width="5" height="49" fill="none" stroke="#0000ff" stroke-width="1"/><rect x="1099" y="253" width="1" height="13" fill="#0000ff"/><rect x="1099" y="306" width="1" height="6" fill="#0000ff"/><rect x="1096.5" y="266.5" width="5" height="39" fill="none" stroke="#0000ff" stroke-width="1"/><rect x="1106" y="252" width="1" height="34" fill="#ff0000"/><rect x="1104" y="261" width="6" height="8" fill="#ff0000"/><rect x="1113" y="264" width="1" height="25" fill="#ff0000"/><rect x="1111" y="272" width="6" height="11" fill="#ff0000"/><rect x="1121" y="242" width="1" height="9" fill="#0000ff"/><rect x="1121" y="265" width="1" height="10" fill="#0000ff"/><rect x="1118.5" y="251.5" width="5" height="13" fill="none" stroke="#0000ff" stroke-width="1"/><rect x="1127" y="240" width="1" height="7" fill="#0000ff"/><rect x="1127" y="252" width="1" height="14" fill="#0000ff"/><rect x="1124.5" y="247.5" width="5" height="4" fill="none" stroke="#0000ff" stroke-width="1"/><rect x="1134" y="231" width="1" height="18" fill="#0000ff"/><rect x="1132" y="234" width="6" height="14" fill="#0000ff"/><rect x="1141" y="224" width="1" height="16" fill="#0000ff"/><rect x="1141" y="253" width="1" height="5" fill="#0000ff"/><rect x="1138.5" y="240.5" width="5" height="12" fill="none" stroke="#0000ff" stroke-width="1"/><rect x="1149" y="221" width="1" height="22" fill="#ff0000"/><rect x="1146.5" y="243.5" width="5" height="3" fill="none" stroke="#ff0000" stroke-width="1"/><rect x="1156" y="211" width="1" height="39" fill="#ff0000"/><rect x="1154" y="211" width="6" height="35" fill="#ff0000"/><rect x="1163" y="225" width="1" height="36" fill="#ff0000"/><rect x="1161" y="225" width="6" height="26" fill="#ff0000"/><rect x="1170" y="252" width="1" height="20" fill="#ff0000"/><rect x="1168" y="252" width="6" height="20" fill="#ff0000"/><rect x="1177" y="257" width="1" height="51" fill="#ff0000"/><rect x="1175" y="275" width="6" height="18" fill="#ff0000"/><rect x="1184" y="281" width="1" height="15" fill="#ff0000"/><rect x="1181.5" y="296.5" width="5" height="7" fill="none" stroke="#ff0000" stroke-width="1"/><rect x="1191" y="261" width="1" height="53" fill="#ff0000"/><rect x="1189" y="282" width="6" height="32" fill="#ff0000"/><rect x="1198" y="316" width="1" height="39" fill="#ff0000"/><rect x="1196" y="325" width="6" height="20" fill="#ff0000"/><rect x="1205" y="338" width="1" height="43" fill="#ff0000"/><rect x="1203" y="339" width="6" height="30" fill="#ff0000"/><rect x="1212" y="340" width="1" height="42" fill="#0000ff"/><rect x="1210" y="351" width="6" height="17" fill="#0000ff"/><rect x="1219" y="358" width="1" height="44" fill="#ff0000"/><rect x="1217" y="374" width="6" height="28" fill="#ff0000"/><rect x="1226" y="394" width="1" height="33" fill="#ff0000"/><rect x="1224" y="401" width="6" height="22" fill="#ff0000"/><rect x="1233" y="405" width="1" height="21" fill="#ff0000"/><rect x="1230" y="421" width="6" height="2" fill="#ff0000"/><rect x="1241" y="416" width="1" height="13" fill="#ff0000"/><rect x="1239" y="422" width="6" height="7" fill="#ff0000"/><rect x="1248" y="407" width="1" height="21" fill="#0000ff"/><rect x="1246" y="414" width="6" height="4" fill="#0000ff"/><rect x="1254" y="406" width="1" height="14" fill="#0000ff"/><rect x="1251" y="414" width="6" height="1" fill="#0000ff"/><rect x="1262" y="420" width="1" height="44" fill="#ff0000"/><rect x="1260" y="428" width="6" height="26" fill="#ff0000"/><rect x="1269" y="440" width="1" height="3" fill="#0000ff"/><rect x="1269" y="457" width="1" height="8" fill="#0000ff"/><rect x="1266.5" y="443.5" width="5" height="13" fill="none" stroke="#0000ff" stroke-width="1"/><rect x="1276" y="454" width="1" height="24" fill="#0000ff"/><rect x="1273.5" y="420.5" width="5" height="33" fill="none" stroke="#0000ff" stroke-width="1"/><rect x="1283" y="413" width="1" height="21" fill="#ff0000"/><rect x="1281" y="416" width="6" height="9" fill="#ff0000"/><rect x="1290" y="418" width="1" height="18" fill="#0000ff"/><rect x="1287" y="421" width="6" height="2" fill="#0000ff"/><rect x="1297" y="422" width="1" height="27" fill="#ff0000"/><rect x="1295" y="424" width="6" height="5" fill="#ff0000"/><rect x="1304" y="432" width="1" height="25" fill="#ff0000"/><rect x="1302" y="432" width="6" height="24" fill="#ff0000"/><rect x="1311" y="445" width="1" height="12" fill="#ff0000"/><rect x="1311" y="460" width="1" height="3" fill="#ff0000"/><rect x="1308.5" y="457.5" width="5" height="2" fill="none" stroke="#ff0000" stroke-width="1"/><rect x="1318" y="444" width="1" height="2" fill="#0000ff"/><rect x="1318" y="449" width="1" height="10" fill="#0000ff"/><rect x="1315.5" y="446.5" width="5" height="2" fill="none" stroke="#0000ff" stroke-width="1"/><rect x="1325" y="420" width="1" height="2" fill="#0000ff"/><rect x="1325" y="434" width="1" height="10" fill="#0000ff"/><rect x="1322.5" y="422.5" width="5" height="11" fill="none" stroke="#0000ff" stroke-width="1"/><rect x="1332" y="426" width="1" height="3" fill="#0000ff"/><rect x="1329.5" y="414.5" width="5" height="11" fill="none" stroke="#0000ff" stroke-width="1"/><rect x="1340" y="401" width="1" height="15" fill="#0000ff"/><rect x="1338" y="401" width="6" height="5" fill="#0000ff"/><rect x="1346" y="400" width="1" height="41" fill="#ff0000"/><rect x="1344" y="400" width="6" height="23" fill="#ff0000"/><rect x="1353" y="420" width="1" height="13" fill="#ff0000"/><rect x="1351" y="422" width="6" height="7" fill="#ff0000"/><rect x="1361" y="429" width="1" height="16" fill="#0000ff"/><rect x="1358.5" y="420.5" width="5" height="8" fill="none" stroke="#0000ff" stroke-width="1"/><rect x="1368" y="422" width="1" height="24" fill="#0000ff"/><rect x="1365.5" y="382.5" width="5" height="39" fill="none" stroke="#0000ff" stroke-width="1"/><rect x="1375" y="371" width="1" height="25" fill="#0000ff"/><rect x="1372" y="381" width="6" height="2" fill="#0000ff"/><rect x="1382" y="397" width="1" height="109" fill="#ff0000"/><rect x="1380" y="413" width="6" height="26" fill="#ff0000"/><rect x="1389" y="401" width="1" height="5" fill="#0000ff"/><rect x="1389" y="432" width="1" height="22" fill="#0000ff"/><rect x="1386.5" y="406.5" width="5" height="25" fill="none" stroke="#0000ff" stroke-width="1"/><rect x="1396" y="339" width="1" height="4" fill="#0000ff"/><rect x="1396" y="409" width="1" height="30" fill="#0000ff"/><rect x="1393.5" y="343.5" width="5" height="65" fill="none" stroke="#0000ff" stroke-width="1"/><rect x="1403" y="335" width="1" height="57" fill="#ff0000"/><rect x="1401" y="340" width="6" height="45" fill="#ff0000"/><rect x="1410" y="323" width="1" height="21" fill="#0000ff"/><rect x="1407.5" y="344.5" width="5" height="41" fill="none" stroke="#0000ff" stroke-width="1"/><rect x="1417" y="317" width="1" height="36" fill="#ff0000"/><rect x="1415" y="332" width="6" height="13" fill="#ff0000"/><rect x="1424" y="339" width="1" height="7" fill="#ff0000"/><rect x="1424" y="361" width="1" height="13" fill="#ff0000"/><rect x="1421.5" y="346.5" width="5" height="14" fill="none" stroke="#ff0000" stroke-width="1"/><rect x="1431" y="326" width="1" height="45" fill="#ff0000"/><rect x="1429" y="326" width="6" height="43" fill="#ff0000"/><rect x="1439" y="344" width="1" height="6" fill="#0000ff"/><rect x="1439" y="366" width="1" height="4" fill="#0000ff"/><rect x="1436.5" y="350.5" width="5" height="15" fill="none" stroke="#0000ff" stroke-width="1"/><rect x="1445" y="329" width="1" height="22" fill="#0000ff"/><rect x="1442" y="345" width="6" height="1" fill="#0000ff"/><rect x="1453" y="321" width="1" height="24" fill="#0000ff"/><rect x="1450" y="339" width="6" height="2" fill="#0000ff"/><rect x="1460" y="323" width="1" height="42" fill="#ff0000"/><rect x="1458" y="342" width="6" height="23" fill="#ff0000"/><rect x="1467" y="367" width="1" height="30" fill="#ff0000"/><rect x="1465" y="381" width="6" height="10" fill="#ff0000"/><rect x="1474" y="375" width="1" height="20" fill="#0000ff"/><rect x="1471" y="388" width="6" height="1" fill="#0000ff"/><rect x="1481" y="385" width="1" height="40" fill="#ff0000"/><rect x="1479" y="385" width="6" height="37" fill="#ff0000"/><rect x="1488" y="422" width="1" height="42" fill="#ff0000"/><rect x="1486" y="427" width="6" height="24" fill="#ff0000"/><rect x="1495" y="428" width="1" height="32" fill="#ff0000"/><rect x="1493" y="440" width="6" height="11" fill="#ff0000"/><rect x="1502" y="429" width="1" height="24" fill="#0000ff"/><rect x="1500" y="444" width="6" height="3" fill="#0000ff"/><rect x="1510" y="422" width="1" height="32" fill="#ff0000"/><rect x="1508" y="445" width="6" height="6" fill="#ff0000"/><rect x="1516" y="427" width="1" height="35" fill="#ff0000"/><rect x="1514" y="451" width="6" height="3" fill="#ff0000"/><rect x="1523" y="438" width="1" height="17" fill="#ff0000"/><rect x="1523" y="461" width="1" height="5" fill="#ff0000"/><rect x="1520.5" y="455.5" width="5" height="5" fill="none" stroke="#ff0000" stroke-width="1"/><rect x="1531" y="452" width="1" height="22" fill="#ff0000"/><rect x="1529" y="456" width="6" height="16" fill="#ff0000"/><rect x="1538" y="465" width="1" height="26" fill="#ff0000"/><rect x="1536" y="471" width="6" height="18" fill="#ff0000"/><rect x="1544" y="479" width="1" height="44" fill="#ff0000"/><rect x="1542" y="479" width="6" height="38" fill="#ff0000"/><rect x="1552" y="511" width="1" height="114" fill="#ff0000"/><rect x="1550" y="511" width="6" height="18" fill="#ff0000"/><rect x="1559" y="508" width="1" height="76" fill="#ff0000"/><rect x="1557" y="524" width="6" height="17" fill="#ff0000"/><rect x="1566" y="504" width="1" height="18" fill="#0000ff"/><rect x="1566" y="533" width="1" height="24" fill="#0000ff"/><rect x="1563.5" y="522.5" width="5" height="10" fill="none" stroke="#0000ff" stroke-width="1"/><rect x="1573" y="494" width="1" height="40" fill="#ff0000"/><rect x="1571" y="519" width="6" height="5" fill="#ff0000"/><rect x="1580" y="524" width="1" height="32" fill="#ff0000"/><rect x="1578" y="524" width="6" height="22" fill="#ff0000"/><rect x="1587" y="528" width="1" height="68" fill="#ff0000"/><rect x="1585" y="553" width="6" height="28" fill="#ff0000"/><rect x="1594" y="566" width="1" height="27" fill="#0000ff"/><rect x="1592" y="571" width="6" height="8" fill="#0000ff"/><rect x="1601" y="577" width="1" height="4" fill="#ff0000"/><rect x="1601" y="586" width="1" height="10" fill="#ff0000"/><rect x="1598.5" y="581.5" width="5" height="4" fill="none" stroke="#ff0000" stroke-width="1"/><rect x="1608" y="566" width="1" height="20" fill="#0000ff"/><rect x="1606" y="568" width="6" height="9" fill="#0000ff"/><rect x="1615" y="578" width="1" height="35" fill="#ff0000"/><rect x="1613" y="587" width="6" height="8" fill="#ff0000"/><rect x="1623" y="575" width="1" height="13" fill="#0000ff"/><rect x="1623" y="594" width="1" height="3" fill="#0000ff"/><rect x="1620.5" y="588.5" width="5" height="5" fill="none" stroke="#0000ff" stroke-width="1"/><rect x="1630" y="564" width="1" height="25" fill="#ff0000"/><rect x="1630" y="595" width="1" height="9" fill="#ff0000"/><rect x="1627.5" y="589.5" width="5" height="5" fill="none" stroke="#ff0000" stroke-width="1"/><rect x="1637" y="580" width="1" height="44" fill="#ff0000"/><rect x="1635" y="580" width="6" height="41" fill="#ff0000"/><rect x="1644" y="597" width="1" height="15" fill="#0000ff"/><rect x="1644" y="618" width="1" height="3" fill="#0000ff"/><rect x="1641.5" y="612.5" width="5" height="5" fill="none" stroke="#0000ff" stroke-width="1"/><rect x="1651" y="592" width="1" height="6" fill="#0000ff"/><rect x="1651" y="618" width="1" height="5" fill="#0000ff"/><rect x="1648.5" y="598.5" width="5" height="19" fill="none" stroke="#0000ff" stroke-width="1"/><rect x="1658" y="574" width="1" height="3" fill="#0000ff"/><rect x="1658" y="598" width="1" height="21" fill="#0000ff"/><rect x="1655.5" y="577.5" width="5" height="20" fill="none" stroke="#0000ff" stroke-width="1"/><rect x="1665" y="571" width="1" height="34" fill="#ff0000"/><rect x="1663" y="581" width="6" height="21" fill="#ff0000"/><rect x="1672" y="565" width="1" height="6" fill="#0000ff"/><rect x="1672" y="583" width="1" height="11" fill="#0000ff"/><rect x="1669.5" y="571.5" width="5" height="11" fill="none" stroke="#0000ff" stroke-width="1"/><rect x="1679" y="555" width="1" height="1" fill="#0000ff"/><rect x="1676.5" y="556.5" width="5" height="31" fill="none" stroke="#0000ff" stroke-width="1"/><rect x="1686" y="520" width="1" height="45" fill="#0000ff"/><rect x="1684" y="520" width="6" height="18" fill="#0000ff"/><rect x="1693" y="521" width="1" height="12" fill="#0000ff"/><rect x="1690.5" y="533.5" width="5" height="5" fill="none" stroke="#0000ff" stroke-width="1"/><rect x="1700" y="499" width="1" height="3" fill="#0000ff"/><rect x="1700" y="518" width="1" height="12" fill="#0000ff"/><rect x="1697.5" y="502.5" width="5" height="15" fill="none" stroke="#0000ff" stroke-width="1"/><rect x="1707" y="484" width="1" height="9" fill="#0000ff"/><rect x="1707" y="497" width="1" height="17" fill="#0000ff"/><rect x="1704.5" y="493.5" width="5" height="3" fill="none" stroke="#0000ff" stroke-width="1"/><rect x="1714" y="483" width="1" height="33" fill="#ff0000"/><rect x="1712" y="494" width="6" height="20" fill="#ff0000"/><rect x="1722" y="493" width="1" height="30" fill="#0000ff"/><rect x="1720" y="504" width="6" height="4" fill="#0000ff"/><rect x="1728" y="490" width="1" height="10" fill="#0000ff"/><rect x="1728" y="508" width="1" height="4" fill="#0000ff"/><rect x="1725.5" y="500.5" width="5" height="7" fill="none" stroke="#0000ff" stroke-width="1"/><rect x="1735" y="496" width="1" height="28" fill="#ff0000"/><rect x="1733" y="496" width="6" height="23" fill="#ff0000"/><rect x="1743" y="514" width="1" height="13" fill="#ff0000"/><rect x="1740" y="519" width="6" height="2" fill="#ff0000"/><rect x="1750" y="515" width="1" height="58" fill="#ff0000"/><rect x="1748" y="524" width="6" height="42" fill="#ff0000"/><rect x="1757" y="541" width="1" height="7" fill="#0000ff"/><rect x="1757" y="570" width="1" height="6" fill="#0000ff"/><rect x="1754.5" y="548.5" width="5" height="21" fill="none" stroke="#0000ff" stroke-width="1"/><rect x="1764" y="492" width="1" height="12" fill="#0000ff"/><rect x="1761.5" y="504.5" width="5" height="47" fill="none" stroke="#0000ff" stroke-width="1"/><rect x="1846" y="0" width="1" height="867" fill="#000"/><rect x="0" y="681" width="1883" height="1" fill="#000"/><rect x="0" y="772" width="1847" height="1" fill="#000"/><rect x="0" y="878" width="1847" height="1" fill="#000"/><rect x="1847" y="1" width="2" height="1" fill="#000"/><rect x="1847" y="6" width="6" height="1" fill="#000"/><text x="1879.3" y="10" font-size="10" font-family="Liberation Sans, Arial, sans-serif" text-anchor="end" fill="#000" font-weight="normal" stroke="#000" stroke-width="0.25" textLength="14.3" lengthAdjust="spacingAndGlyphs">415</text><rect x="1847" y="11" width="2" height="1" fill="#000"/><rect x="1847" y="16" width="2" height="1" fill="#000"/><rect x="1847" y="21" width="2" height="1" fill="#000"/><rect x="1847" y="26" width="2" height="1" fill="#000"/><rect x="1847" y="31" width="6" height="1" fill="#000"/><text x="1879.3" y="35" font-size="10" font-family="Liberation Sans, Arial, sans-serif" text-anchor="end" fill="#000" font-weight="normal" stroke="#000" stroke-width="0.25" textLength="14.3" lengthAdjust="spacingAndGlyphs">410</text><rect x="1847" y="36" width="2" height="1" fill="#000"/><rect x="1847" y="41" width="2" height="1" fill="#000"/><rect x="1847" y="46" width="2" height="1" fill="#000"/><rect x="1847" y="51" width="2" height="1" fill="#000"/><rect x="1847" y="56" width="6" height="1" fill="#000"/><text x="1879.3" y="60" font-size="10" font-family="Liberation Sans, Arial, sans-serif" text-anchor="end" fill="#000" font-weight="normal" stroke="#000" stroke-width="0.25" textLength="14.3" lengthAdjust="spacingAndGlyphs">405</text><rect x="1847" y="61" width="2" height="1" fill="#000"/><rect x="1847" y="66" width="2" height="1" fill="#000"/><rect x="1847" y="71" width="2" height="1" fill="#000"/><rect x="1847" y="76" width="2" height="1" fill="#000"/><rect x="1847" y="81" width="6" height="1" fill="#000"/><text x="1879.3" y="85" font-size="10" font-family="Liberation Sans, Arial, sans-serif" text-anchor="end" fill="#000" font-weight="normal" stroke="#000" stroke-width="0.25" textLength="14.3" lengthAdjust="spacingAndGlyphs">400</text><rect x="1847" y="86" width="2" height="1" fill="#000"/><rect x="1847" y="91" width="2" height="1" fill="#000"/><rect x="1847" y="96" width="2" height="1" fill="#000"/><rect x="1847" y="101" width="2" height="1" fill="#000"/><rect x="1847" y="106" width="6" height="1" fill="#000"/><text x="1879.3" y="110" font-size="10" font-family="Liberation Sans, Arial, sans-serif" text-anchor="end" fill="#000" font-weight="normal" stroke="#000" stroke-width="0.25" textLength="14.3" lengthAdjust="spacingAndGlyphs">395</text><rect x="1847" y="111" width="2" height="1" fill="#000"/><rect x="1847" y="116" width="2" height="1" fill="#000"/><rect x="1847" y="121" width="2" height="1" fill="#000"/><rect x="1847" y="126" width="2" height="1" fill="#000"/><rect x="1847" y="131" width="6" height="1" fill="#000"/><text x="1879.3" y="135" font-size="10" font-family="Liberation Sans, Arial, sans-serif" text-anchor="end" fill="#000" font-weight="normal" stroke="#000" stroke-width="0.25" textLength="14.3" lengthAdjust="spacingAndGlyphs">390</text><rect x="1847" y="136" width="2" height="1" fill="#000"/><rect x="1847" y="141" width="2" height="1" fill="#000"/><rect x="1847" y="146" width="2" height="1" fill="#000"/><rect x="1847" y="151" width="2" height="1" fill="#000"/><rect x="1847" y="156" width="6" height="1" fill="#000"/><text x="1879.3" y="160" font-size="10" font-family="Liberation Sans, Arial, sans-serif" text-anchor="end" fill="#000" font-weight="normal" stroke="#000" stroke-width="0.25" textLength="14.3" lengthAdjust="spacingAndGlyphs">385</text><rect x="1847" y="161" width="2" height="1" fill="#000"/><rect x="1847" y="166" width="2" height="1" fill="#000"/><rect x="1847" y="171" width="2" height="1" fill="#000"/><rect x="1847" y="176" width="2" height="1" fill="#000"/><rect x="1847" y="181" width="6" height="1" fill="#000"/><text x="1879.3" y="185" font-size="10" font-family="Liberation Sans, Arial, sans-serif" text-anchor="end" fill="#000" font-weight="normal" stroke="#000" stroke-width="0.25" textLength="14.3" lengthAdjust="spacingAndGlyphs">380</text><rect x="1847" y="186" width="2" height="1" fill="#000"/><rect x="1847" y="191" width="2" height="1" fill="#000"/><rect x="1847" y="196" width="2" height="1" fill="#000"/><rect x="1847" y="201" width="2" height="1" fill="#000"/><rect x="1847" y="206" width="6" height="1" fill="#000"/><text x="1879.3" y="210" font-size="10" font-family="Liberation Sans, Arial, sans-serif" text-anchor="end" fill="#000" font-weight="normal" stroke="#000" stroke-width="0.25" textLength="14.3" lengthAdjust="spacingAndGlyphs">375</text><rect x="1847" y="211" width="2" height="1" fill="#000"/><rect x="1847" y="216" width="2" height="1" fill="#000"/><rect x="1847" y="221" width="2" height="1" fill="#000"/><rect x="1847" y="226" width="2" height="1" fill="#000"/><rect x="1847" y="231" width="6" height="1" fill="#000"/><text x="1879.3" y="235" font-size="10" font-family="Liberation Sans, Arial, sans-serif" text-anchor="end" fill="#000" font-weight="normal" stroke="#000" stroke-width="0.25" textLength="14.3" lengthAdjust="spacingAndGlyphs">370</text><rect x="1847" y="236" width="2" height="1" fill="#000"/><rect x="1847" y="241" width="2" height="1" fill="#000"/><rect x="1847" y="246" width="2" height="1" fill="#000"/><rect x="1847" y="251" width="2" height="1" fill="#000"/><rect x="1847" y="256" width="6" height="1" fill="#000"/><text x="1879.3" y="260" font-size="10" font-family="Liberation Sans, Arial, sans-serif" text-anchor="end" fill="#000" font-weight="normal" stroke="#000" stroke-width="0.25" textLength="14.3" lengthAdjust="spacingAndGlyphs">365</text><rect x="1847" y="261" width="2" height="1" fill="#000"/><rect x="1847" y="266" width="2" height="1" fill="#000"/><rect x="1847" y="271" width="2" height="1" fill="#000"/><rect x="1847" y="276" width="2" height="1" fill="#000"/><rect x="1847" y="281" width="6" height="1" fill="#000"/><text x="1879.3" y="285" font-size="10" font-family="Liberation Sans, Arial, sans-serif" text-anchor="end" fill="#000" font-weight="normal" stroke="#000" stroke-width="0.25" textLength="14.3" lengthAdjust="spacingAndGlyphs">360</text><rect x="1847" y="286" width="2" height="1" fill="#000"/><rect x="1847" y="291" width="2" height="1" fill="#000"/><rect x="1847" y="296" width="2" height="1" fill="#000"/><rect x="1847" y="301" width="2" height="1" fill="#000"/><rect x="1847" y="306" width="6" height="1" fill="#000"/><text x="1879.3" y="310" font-size="10" font-family="Liberation Sans, Arial, sans-serif" text-anchor="end" fill="#000" font-weight="normal" stroke="#000" stroke-width="0.25" textLength="14.3" lengthAdjust="spacingAndGlyphs">355</text><rect x="1847" y="311" width="2" height="1" fill="#000"/><rect x="1847" y="316" width="2" height="1" fill="#000"/><rect x="1847" y="321" width="2" height="1" fill="#000"/><rect x="1847" y="326" width="2" height="1" fill="#000"/><rect x="1847" y="331" width="6" height="1" fill="#000"/><text x="1879.3" y="335" font-size="10" font-family="Liberation Sans, Arial, sans-serif" text-anchor="end" fill="#000" font-weight="normal" stroke="#000" stroke-width="0.25" textLength="14.3" lengthAdjust="spacingAndGlyphs">350</text><rect x="1847" y="336" width="2" height="1" fill="#000"/><rect x="1847" y="341" width="2" height="1" fill="#000"/><rect x="1847" y="346" width="2" height="1" fill="#000"/><rect x="1847" y="351" width="2" height="1" fill="#000"/><rect x="1847" y="356" width="6" height="1" fill="#000"/><text x="1879.3" y="360" font-size="10" font-family="Liberation Sans, Arial, sans-serif" text-anchor="end" fill="#000" font-weight="normal" stroke="#000" stroke-width="0.25" textLength="14.3" lengthAdjust="spacingAndGlyphs">345</text><rect x="1847" y="361" width="2" height="1" fill="#000"/><rect x="1847" y="366" width="2" height="1" fill="#000"/><rect x="1847" y="371" width="2" height="1" fill="#000"/><rect x="1847" y="376" width="2" height="1" fill="#000"/><rect x="1847" y="381" width="6" height="1" fill="#000"/><text x="1879.3" y="385" font-size="10" font-family="Liberation Sans, Arial, sans-serif" text-anchor="end" fill="#000" font-weight="normal" stroke="#000" stroke-width="0.25" textLength="14.3" lengthAdjust="spacingAndGlyphs">340</text><rect x="1847" y="386" width="2" height="1" fill="#000"/><rect x="1847" y="391" width="2" height="1" fill="#000"/><rect x="1847" y="396" width="2" height="1" fill="#000"/><rect x="1847" y="401" width="2" height="1" fill="#000"/><rect x="1847" y="406" width="6" height="1" fill="#000"/><text x="1879.3" y="410" font-size="10" font-family="Liberation Sans, Arial, sans-serif" text-anchor="end" fill="#000" font-weight="normal" stroke="#000" stroke-width="0.25" textLength="14.3" lengthAdjust="spacingAndGlyphs">335</text><rect x="1847" y="411" width="2" height="1" fill="#000"/><rect x="1847" y="416" width="2" height="1" fill="#000"/><rect x="1847" y="421" width="2" height="1" fill="#000"/><rect x="1847" y="426" width="2" height="1" fill="#000"/><rect x="1847" y="431" width="6" height="1" fill="#000"/><text x="1879.3" y="435" font-size="10" font-family="Liberation Sans, Arial, sans-serif" text-anchor="end" fill="#000" font-weight="normal" stroke="#000" stroke-width="0.25" textLength="14.3" lengthAdjust="spacingAndGlyphs">330</text><rect x="1847" y="436" width="2" height="1" fill="#000"/><rect x="1847" y="441" width="2" height="1" fill="#000"/><rect x="1847" y="446" width="2" height="1" fill="#000"/><rect x="1847" y="451" width="2" height="1" fill="#000"/><rect x="1847" y="456" width="6" height="1" fill="#000"/><text x="1879.3" y="460" font-size="10" font-family="Liberation Sans, Arial, sans-serif" text-anchor="end" fill="#000" font-weight="normal" stroke="#000" stroke-width="0.25" textLength="14.3" lengthAdjust="spacingAndGlyphs">325</text><rect x="1847" y="461" width="2" height="1" fill="#000"/><rect x="1847" y="466" width="2" height="1" fill="#000"/><rect x="1847" y="471" width="2" height="1" fill="#000"/><rect x="1847" y="476" width="2" height="1" fill="#000"/><rect x="1847" y="481" width="6" height="1" fill="#000"/><text x="1879.3" y="485" font-size="10" font-family="Liberation Sans, Arial, sans-serif" text-anchor="end" fill="#000" font-weight="normal" stroke="#000" stroke-width="0.25" textLength="14.3" lengthAdjust="spacingAndGlyphs">320</text><rect x="1847" y="486" width="2" height="1" fill="#000"/><rect x="1847" y="491" width="2" height="1" fill="#000"/><rect x="1847" y="496" width="2" height="1" fill="#000"/><rect x="1847" y="501" width="2" height="1" fill="#000"/><rect x="1847" y="506" width="6" height="1" fill="#000"/><text x="1879.3" y="510" font-size="10" font-family="Liberation Sans, Arial, sans-serif" text-anchor="end" fill="#000" font-weight="normal" stroke="#000" stroke-width="0.25" textLength="14.3" lengthAdjust="spacingAndGlyphs">315</text><rect x="1847" y="511" width="2" height="1" fill="#000"/><rect x="1847" y="516" width="2" height="1" fill="#000"/><rect x="1847" y="521" width="2" height="1" fill="#000"/><rect x="1847" y="526" width="2" height="1" fill="#000"/><rect x="1847" y="531" width="6" height="1" fill="#000"/><text x="1879.3" y="535" font-size="10" font-family="Liberation Sans, Arial, sans-serif" text-anchor="end" fill="#000" font-weight="normal" stroke="#000" stroke-width="0.25" textLength="14.3" lengthAdjust="spacingAndGlyphs">310</text><rect x="1847" y="536" width="2" height="1" fill="#000"/><rect x="1847" y="541" width="2" height="1" fill="#000"/><rect x="1847" y="546" width="2" height="1" fill="#000"/><rect x="1847" y="551" width="2" height="1" fill="#000"/><rect x="1847" y="556" width="6" height="1" fill="#000"/><text x="1879.3" y="560" font-size="10" font-family="Liberation Sans, Arial, sans-serif" text-anchor="end" fill="#000" font-weight="normal" stroke="#000" stroke-width="0.25" textLength="14.3" lengthAdjust="spacingAndGlyphs">305</text><rect x="1847" y="561" width="2" height="1" fill="#000"/><rect x="1847" y="566" width="2" height="1" fill="#000"/><rect x="1847" y="571" width="2" height="1" fill="#000"/><rect x="1847" y="576" width="2" height="1" fill="#000"/><rect x="1847" y="581" width="6" height="1" fill="#000"/><text x="1879.3" y="585" font-size="10" font-family="Liberation Sans, Arial, sans-serif" text-anchor="end" fill="#000" font-weight="normal" stroke="#000" stroke-width="0.25" textLength="14.3" lengthAdjust="spacingAndGlyphs">300</text><rect x="1847" y="586" width="2" height="1" fill="#000"/><rect x="1847" y="591" width="2" height="1" fill="#000"/><rect x="1847" y="596" width="2" height="1" fill="#000"/><rect x="1847" y="601" width="2" height="1" fill="#000"/><rect x="1847" y="606" width="6" height="1" fill="#000"/><text x="1879.3" y="610" font-size="10" font-family="Liberation Sans, Arial, sans-serif" text-anchor="end" fill="#000" font-weight="normal" stroke="#000" stroke-width="0.25" textLength="14.3" lengthAdjust="spacingAndGlyphs">295</text><rect x="1847" y="611" width="2" height="1" fill="#000"/><rect x="1847" y="616" width="2" height="1" fill="#000"/><rect x="1847" y="621" width="2" height="1" fill="#000"/><rect x="1847" y="626" width="2" height="1" fill="#000"/><rect x="1847" y="631" width="6" height="1" fill="#000"/><text x="1879.3" y="635" font-size="10" font-family="Liberation Sans, Arial, sans-serif" text-anchor="end" fill="#000" font-weight="normal" stroke="#000" stroke-width="0.25" textLength="14.3" lengthAdjust="spacingAndGlyphs">290</text><rect x="1847" y="636" width="2" height="1" fill="#000"/><rect x="1847" y="641" width="2" height="1" fill="#000"/><rect x="1847" y="646" width="2" height="1" fill="#000"/><rect x="1847" y="651" width="2" height="1" fill="#000"/><rect x="1847" y="656" width="6" height="1" fill="#000"/><text x="1879.3" y="660" font-size="10" font-family="Liberation Sans, Arial, sans-serif" text-anchor="end" fill="#000" font-weight="normal" stroke="#000" stroke-width="0.25" textLength="14.3" lengthAdjust="spacingAndGlyphs">285</text><rect x="1847" y="661" width="2" height="1" fill="#000"/><rect x="1847" y="666" width="2" height="1" fill="#000"/><rect x="1847" y="671" width="2" height="1" fill="#000"/><rect x="1847" y="676" width="2" height="1" fill="#000"/><rect x="1847" y="688" width="2" height="1" fill="#000"/><rect x="1847" y="695" width="6" height="1" fill="#000"/><text x="1879.2" y="700" font-size="10" font-family="Liberation Sans, Arial, sans-serif" text-anchor="end" fill="#000" font-weight="normal" stroke="#000" stroke-width="0.25" textLength="9.4" lengthAdjust="spacingAndGlyphs">70</text><rect x="1847" y="702" width="2" height="1" fill="#000"/><rect x="1847" y="709" width="6" height="1" fill="#000"/><text x="1879.2" y="714" font-size="10" font-family="Liberation Sans, Arial, sans-serif" text-anchor="end" fill="#000" font-weight="normal" stroke="#000" stroke-width="0.25" textLength="9.4" lengthAdjust="spacingAndGlyphs">60</text><rect x="1847" y="716" width="2" height="1" fill="#000"/><rect x="1847" y="723" width="6" height="1" fill="#000"/><text x="1879.2" y="728" font-size="10" font-family="Liberation Sans, Arial, sans-serif" text-anchor="end" fill="#000" font-weight="normal" stroke="#000" stroke-width="0.25" textLength="9.4" lengthAdjust="spacingAndGlyphs">50</text><rect x="1847" y="730" width="2" height="1" fill="#000"/><rect x="1847" y="738" width="6" height="1" fill="#000"/><text x="1879.2" y="743" font-size="10" font-family="Liberation Sans, Arial, sans-serif" text-anchor="end" fill="#000" font-weight="normal" stroke="#000" stroke-width="0.25" textLength="9.4" lengthAdjust="spacingAndGlyphs">40</text><rect x="1847" y="745" width="2" height="1" fill="#000"/><rect x="1847" y="752" width="6" height="1" fill="#000"/><text x="1879.2" y="757" font-size="10" font-family="Liberation Sans, Arial, sans-serif" text-anchor="end" fill="#000" font-weight="normal" stroke="#000" stroke-width="0.25" textLength="9.4" lengthAdjust="spacingAndGlyphs">30</text><rect x="1847" y="759" width="2" height="1" fill="#000"/><rect x="1847" y="766" width="6" height="1" fill="#000"/><text x="1879.2" y="771" font-size="10" font-family="Liberation Sans, Arial, sans-serif" text-anchor="end" fill="#000" font-weight="normal" stroke="#000" stroke-width="0.25" textLength="9.4" lengthAdjust="spacingAndGlyphs">20</text><rect x="1847" y="773" width="2" height="1" fill="#000"/><rect x="1847" y="775" width="6" height="1" fill="#000"/><rect x="1847" y="778" width="2" height="1" fill="#000"/><rect x="1847" y="780" width="2" height="1" fill="#000"/><rect x="1847" y="782" width="2" height="1" fill="#000"/><rect x="1847" y="784" width="2" height="1" fill="#000"/><rect x="1847" y="786" width="6" height="1" fill="#000"/><text x="1879" y="791" font-size="10" font-family="Liberation Sans, Arial, sans-serif" text-anchor="end" fill="#000" font-weight="normal" stroke="#000" stroke-width="0.25" textLength="24" lengthAdjust="spacingAndGlyphs">40000</text><rect x="1847" y="788" width="2" height="1" fill="#000"/><rect x="1847" y="790" width="2" height="1" fill="#000"/><rect x="1847" y="792" width="2" height="1" fill="#000"/><rect x="1847" y="794" width="2" height="1" fill="#000"/><rect x="1847" y="797" width="6" height="1" fill="#000"/><text x="1879" y="802" font-size="10" font-family="Liberation Sans, Arial, sans-serif" text-anchor="end" fill="#000" font-weight="normal" stroke="#000" stroke-width="0.25" textLength="24" lengthAdjust="spacingAndGlyphs">35000</text><rect x="1847" y="799" width="2" height="1" fill="#000"/><rect x="1847" y="801" width="2" height="1" fill="#000"/><rect x="1847" y="803" width="2" height="1" fill="#000"/><rect x="1847" y="805" width="2" height="1" fill="#000"/><rect x="1847" y="807" width="6" height="1" fill="#000"/><text x="1879" y="812" font-size="10" font-family="Liberation Sans, Arial, sans-serif" text-anchor="end" fill="#000" font-weight="normal" stroke="#000" stroke-width="0.25" textLength="24" lengthAdjust="spacingAndGlyphs">30000</text><rect x="1847" y="809" width="2" height="1" fill="#000"/><rect x="1847" y="811" width="2" height="1" fill="#000"/><rect x="1847" y="813" width="2" height="1" fill="#000"/><rect x="1847" y="816" width="2" height="1" fill="#000"/><rect x="1847" y="818" width="6" height="1" fill="#000"/><text x="1879" y="823" font-size="10" font-family="Liberation Sans, Arial, sans-serif" text-anchor="end" fill="#000" font-weight="normal" stroke="#000" stroke-width="0.25" textLength="24" lengthAdjust="spacingAndGlyphs">25000</text><rect x="1847" y="820" width="2" height="1" fill="#000"/><rect x="1847" y="822" width="2" height="1" fill="#000"/><rect x="1847" y="824" width="2" height="1" fill="#000"/><rect x="1847" y="826" width="2" height="1" fill="#000"/><rect x="1847" y="828" width="6" height="1" fill="#000"/><text x="1879" y="833" font-size="10" font-family="Liberation Sans, Arial, sans-serif" text-anchor="end" fill="#000" font-weight="normal" stroke="#000" stroke-width="0.25" textLength="24" lengthAdjust="spacingAndGlyphs">20000</text><rect x="1847" y="830" width="2" height="1" fill="#000"/><rect x="1847" y="832" width="2" height="1" fill="#000"/><rect x="1847" y="835" width="2" height="1" fill="#000"/><rect x="1847" y="837" width="2" height="1" fill="#000"/><rect x="1847" y="839" width="6" height="1" fill="#000"/><text x="1879" y="844" font-size="10" font-family="Liberation Sans, Arial, sans-serif" text-anchor="end" fill="#000" font-weight="normal" stroke="#000" stroke-width="0.25" textLength="24" lengthAdjust="spacingAndGlyphs">15000</text><rect x="1847" y="841" width="2" height="1" fill="#000"/><rect x="1847" y="843" width="2" height="1" fill="#000"/><rect x="1847" y="845" width="2" height="1" fill="#000"/><rect x="1847" y="847" width="2" height="1" fill="#000"/><rect x="1847" y="849" width="6" height="1" fill="#000"/><text x="1879" y="854" font-size="10" font-family="Liberation Sans, Arial, sans-serif" text-anchor="end" fill="#000" font-weight="normal" stroke="#000" stroke-width="0.25" textLength="24" lengthAdjust="spacingAndGlyphs">10000</text><rect x="1847" y="851" width="2" height="1" fill="#000"/><rect x="1847" y="854" width="2" height="1" fill="#000"/><rect x="1847" y="856" width="2" height="1" fill="#000"/><rect x="1847" y="858" width="2" height="1" fill="#000"/><rect x="1847" y="860" width="6" height="1" fill="#000"/><rect x="1847" y="862" width="2" height="1" fill="#000"/><text x="1879" y="865" font-size="10" font-family="Liberation Sans, Arial, sans-serif" text-anchor="end" fill="#000" font-weight="normal" stroke="#000" stroke-width="0.25" textLength="19" lengthAdjust="spacingAndGlyphs">5000</text><text x="1849" y="865" font-size="10" font-family="Liberation Sans, Arial, sans-serif" text-anchor="start" fill="#000" font-weight="normal" stroke="#000" stroke-width="0.25" textLength="24" lengthAdjust="spacingAndGlyphs">x1000</text><rect x="1847" y="857" width="21" height="1" fill="#000"/><clipPath id="cd"><rect x="0" y="860" width="1846" height="29"/></clipPath><g clip-path="url(#cd)"><rect x="24" y="867" width="1" height="11" fill="#000"/><text x="25.5" y="876.3" font-size="10" font-family="Liberation Sans, Arial, sans-serif" fill="#000" stroke="#000" stroke-width="0.2" textLength="9.2" lengthAdjust="spacingAndGlyphs">21</text><rect x="59" y="867" width="1" height="11" fill="#000"/><text x="60.5" y="876.3" font-size="10" font-family="Liberation Sans, Arial, sans-serif" fill="#000" stroke="#000" stroke-width="0.2" textLength="9.2" lengthAdjust="spacingAndGlyphs">28</text><rect x="95" y="867" width="1" height="11" fill="#000"/><text x="96.5" y="876.3" font-size="10" font-family="Liberation Sans, Arial, sans-serif" fill="#000" stroke="#000" stroke-width="0.2" textLength="4.6" lengthAdjust="spacingAndGlyphs">4</text><rect x="130" y="867" width="1" height="11" fill="#000"/><text x="131.5" y="876.3" font-size="10" font-family="Liberation Sans, Arial, sans-serif" fill="#000" stroke="#000" stroke-width="0.2" textLength="9.2" lengthAdjust="spacingAndGlyphs">11</text><rect x="166" y="867" width="1" height="11" fill="#000"/><text x="167.5" y="876.3" font-size="10" font-family="Liberation Sans, Arial, sans-serif" fill="#000" stroke="#000" stroke-width="0.2" textLength="9.2" lengthAdjust="spacingAndGlyphs">18</text><rect x="200" y="867" width="1" height="11" fill="#000"/><text x="201.5" y="876.3" font-size="10" font-family="Liberation Sans, Arial, sans-serif" fill="#000" stroke="#000" stroke-width="0.2" textLength="9.2" lengthAdjust="spacingAndGlyphs">25</text><rect x="236" y="867" width="1" height="11" fill="#000"/><text x="237.5" y="876.3" font-size="10" font-family="Liberation Sans, Arial, sans-serif" fill="#000" stroke="#000" stroke-width="0.2" textLength="4.6" lengthAdjust="spacingAndGlyphs">4</text><rect x="271" y="867" width="1" height="11" fill="#000"/><text x="272.5" y="876.3" font-size="10" font-family="Liberation Sans, Arial, sans-serif" fill="#000" stroke="#000" stroke-width="0.2" textLength="9.2" lengthAdjust="spacingAndGlyphs">11</text><rect x="307" y="867" width="1" height="11" fill="#000"/><text x="308.5" y="876.3" font-size="10" font-family="Liberation Sans, Arial, sans-serif" fill="#000" stroke="#000" stroke-width="0.2" textLength="9.2" lengthAdjust="spacingAndGlyphs">18</text><rect x="342" y="867" width="1" height="11" fill="#000"/><text x="343.5" y="876.3" font-size="10" font-family="Liberation Sans, Arial, sans-serif" fill="#000" stroke="#000" stroke-width="0.2" textLength="9.2" lengthAdjust="spacingAndGlyphs">25</text><rect x="370" y="867" width="1" height="11" fill="#000"/><text x="371.5" y="876.3" font-size="10" font-family="Liberation Sans, Arial, sans-serif" fill="#000" stroke="#000" stroke-width="0.2" textLength="4.6" lengthAdjust="spacingAndGlyphs">2</text><rect x="399" y="867" width="1" height="11" fill="#000"/><text x="400.5" y="876.3" font-size="10" font-family="Liberation Sans, Arial, sans-serif" fill="#000" stroke="#000" stroke-width="0.2" textLength="4.6" lengthAdjust="spacingAndGlyphs">8</text><rect x="434" y="867" width="1" height="11" fill="#000"/><text x="435.5" y="876.3" font-size="10" font-family="Liberation Sans, Arial, sans-serif" fill="#000" stroke="#000" stroke-width="0.2" textLength="9.2" lengthAdjust="spacingAndGlyphs">15</text><rect x="469" y="867" width="1" height="11" fill="#000"/><text x="470.5" y="876.3" font-size="10" font-family="Liberation Sans, Arial, sans-serif" fill="#000" stroke="#000" stroke-width="0.2" textLength="9.2" lengthAdjust="spacingAndGlyphs">22</text><rect x="505" y="867" width="1" height="11" fill="#000"/><text x="506.5" y="876.3" font-size="10" font-family="Liberation Sans, Arial, sans-serif" fill="#000" stroke="#000" stroke-width="0.2" textLength="9.2" lengthAdjust="spacingAndGlyphs">29</text><rect x="540" y="867" width="1" height="11" fill="#000"/><text x="541.5" y="876.3" font-size="10" font-family="Liberation Sans, Arial, sans-serif" fill="#000" stroke="#000" stroke-width="0.2" textLength="4.6" lengthAdjust="spacingAndGlyphs">7</text><rect x="569" y="867" width="1" height="11" fill="#000"/><text x="570.5" y="876.3" font-size="10" font-family="Liberation Sans, Arial, sans-serif" fill="#000" stroke="#000" stroke-width="0.2" textLength="9.2" lengthAdjust="spacingAndGlyphs">13</text><rect x="604" y="867" width="1" height="11" fill="#000"/><text x="605.5" y="876.3" font-size="10" font-family="Liberation Sans, Arial, sans-serif" fill="#000" stroke="#000" stroke-width="0.2" textLength="9.2" lengthAdjust="spacingAndGlyphs">20</text><rect x="639" y="867" width="1" height="11" fill="#000"/><text x="640.5" y="876.3" font-size="10" font-family="Liberation Sans, Arial, sans-serif" fill="#000" stroke="#000" stroke-width="0.2" textLength="9.2" lengthAdjust="spacingAndGlyphs">28</text><rect x="668" y="867" width="1" height="11" fill="#000"/><text x="669.5" y="876.3" font-size="10" font-family="Liberation Sans, Arial, sans-serif" fill="#000" stroke="#000" stroke-width="0.2" textLength="4.6" lengthAdjust="spacingAndGlyphs">3</text><rect x="703" y="867" width="1" height="11" fill="#000"/><text x="704.5" y="876.3" font-size="10" font-family="Liberation Sans, Arial, sans-serif" fill="#000" stroke="#000" stroke-width="0.2" textLength="9.2" lengthAdjust="spacingAndGlyphs">10</text><rect x="739" y="867" width="1" height="11" fill="#000"/><text x="740.5" y="876.3" font-size="10" font-family="Liberation Sans, Arial, sans-serif" fill="#000" stroke="#000" stroke-width="0.2" textLength="9.2" lengthAdjust="spacingAndGlyphs">17</text><rect x="773" y="867" width="1" height="11" fill="#000"/><text x="774.5" y="876.3" font-size="10" font-family="Liberation Sans, Arial, sans-serif" fill="#000" stroke="#000" stroke-width="0.2" textLength="9.2" lengthAdjust="spacingAndGlyphs">24</text><rect x="809" y="867" width="1" height="11" fill="#000"/><text x="810.5" y="876.3" font-size="10" font-family="Liberation Sans, Arial, sans-serif" fill="#000" stroke="#000" stroke-width="0.2" textLength="4.6" lengthAdjust="spacingAndGlyphs">1</text><rect x="844" y="867" width="1" height="11" fill="#000"/><text x="845.5" y="876.3" font-size="10" font-family="Liberation Sans, Arial, sans-serif" fill="#000" stroke="#000" stroke-width="0.2" textLength="4.6" lengthAdjust="spacingAndGlyphs">8</text><rect x="880" y="867" width="1" height="11" fill="#000"/><text x="881.5" y="876.3" font-size="10" font-family="Liberation Sans, Arial, sans-serif" fill="#000" stroke="#000" stroke-width="0.2" textLength="9.2" lengthAdjust="spacingAndGlyphs">15</text><rect x="915" y="867" width="1" height="11" fill="#000"/><text x="916.5" y="876.3" font-size="10" font-family="Liberation Sans, Arial, sans-serif" fill="#000" stroke="#000" stroke-width="0.2" textLength="9.2" lengthAdjust="spacingAndGlyphs">22</text><rect x="951" y="867" width="1" height="11" fill="#000"/><text x="952.5" y="876.3" font-size="10" font-family="Liberation Sans, Arial, sans-serif" fill="#000" stroke="#000" stroke-width="0.2" textLength="9.2" lengthAdjust="spacingAndGlyphs">29</text><rect x="986" y="867" width="1" height="11" fill="#000"/><text x="987.5" y="876.3" font-size="10" font-family="Liberation Sans, Arial, sans-serif" fill="#000" stroke="#000" stroke-width="0.2" textLength="4.6" lengthAdjust="spacingAndGlyphs">5</text><rect x="1021" y="867" width="1" height="11" fill="#000"/><text x="1022.5" y="876.3" font-size="10" font-family="Liberation Sans, Arial, sans-serif" fill="#000" stroke="#000" stroke-width="0.2" textLength="9.2" lengthAdjust="spacingAndGlyphs">12</text><rect x="1057" y="867" width="1" height="11" fill="#000"/><text x="1058.5" y="876.3" font-size="10" font-family="Liberation Sans, Arial, sans-serif" fill="#000" stroke="#000" stroke-width="0.2" textLength="9.2" lengthAdjust="spacingAndGlyphs">19</text><rect x="1092" y="867" width="1" height="11" fill="#000"/><text x="1093.5" y="876.3" font-size="10" font-family="Liberation Sans, Arial, sans-serif" fill="#000" stroke="#000" stroke-width="0.2" textLength="9.2" lengthAdjust="spacingAndGlyphs">27</text><rect x="1121" y="867" width="1" height="11" fill="#000"/><text x="1122.5" y="876.3" font-size="10" font-family="Liberation Sans, Arial, sans-serif" fill="#000" stroke="#000" stroke-width="0.2" textLength="4.6" lengthAdjust="spacingAndGlyphs">2</text><rect x="1156" y="867" width="1" height="11" fill="#000"/><text x="1157.5" y="876.3" font-size="10" font-family="Liberation Sans, Arial, sans-serif" fill="#000" stroke="#000" stroke-width="0.2" textLength="4.6" lengthAdjust="spacingAndGlyphs">9</text><rect x="1191" y="867" width="1" height="11" fill="#000"/><text x="1192.5" y="876.3" font-size="10" font-family="Liberation Sans, Arial, sans-serif" fill="#000" stroke="#000" stroke-width="0.2" textLength="9.2" lengthAdjust="spacingAndGlyphs">16</text><rect x="1226" y="867" width="1" height="11" fill="#000"/><text x="1227.5" y="876.3" font-size="10" font-family="Liberation Sans, Arial, sans-serif" fill="#000" stroke="#000" stroke-width="0.2" textLength="9.2" lengthAdjust="spacingAndGlyphs">23</text><rect x="1262" y="867" width="1" height="11" fill="#000"/><text x="1263.5" y="876.3" font-size="10" font-family="Liberation Sans, Arial, sans-serif" fill="#000" stroke="#000" stroke-width="0.2" textLength="9.2" lengthAdjust="spacingAndGlyphs">30</text><rect x="1297" y="867" width="1" height="11" fill="#000"/><text x="1298.5" y="876.3" font-size="10" font-family="Liberation Sans, Arial, sans-serif" fill="#000" stroke="#000" stroke-width="0.2" textLength="4.6" lengthAdjust="spacingAndGlyphs">7</text><rect x="1332" y="867" width="1" height="11" fill="#000"/><text x="1333.5" y="876.3" font-size="10" font-family="Liberation Sans, Arial, sans-serif" fill="#000" stroke="#000" stroke-width="0.2" textLength="9.2" lengthAdjust="spacingAndGlyphs">14</text><rect x="1368" y="867" width="1" height="11" fill="#000"/><text x="1369.5" y="876.3" font-size="10" font-family="Liberation Sans, Arial, sans-serif" fill="#000" stroke="#000" stroke-width="0.2" textLength="9.2" lengthAdjust="spacingAndGlyphs">21</text><rect x="1403" y="867" width="1" height="11" fill="#000"/><text x="1404.5" y="876.3" font-size="10" font-family="Liberation Sans, Arial, sans-serif" fill="#000" stroke="#000" stroke-width="0.2" textLength="9.2" lengthAdjust="spacingAndGlyphs">28</text><rect x="1439" y="867" width="1" height="11" fill="#000"/><text x="1440.5" y="876.3" font-size="10" font-family="Liberation Sans, Arial, sans-serif" fill="#000" stroke="#000" stroke-width="0.2" textLength="4.6" lengthAdjust="spacingAndGlyphs">4</text><rect x="1474" y="867" width="1" height="11" fill="#000"/><text x="1475.5" y="876.3" font-size="10" font-family="Liberation Sans, Arial, sans-serif" fill="#000" stroke="#000" stroke-width="0.2" textLength="9.2" lengthAdjust="spacingAndGlyphs">11</text><rect x="1510" y="867" width="1" height="11" fill="#000"/><text x="1511.5" y="876.3" font-size="10" font-family="Liberation Sans, Arial, sans-serif" fill="#000" stroke="#000" stroke-width="0.2" textLength="9.2" lengthAdjust="spacingAndGlyphs">18</text><rect x="1544" y="867" width="1" height="11" fill="#000"/><text x="1545.5" y="876.3" font-size="10" font-family="Liberation Sans, Arial, sans-serif" fill="#000" stroke="#000" stroke-width="0.2" textLength="9.2" lengthAdjust="spacingAndGlyphs">25</text><rect x="1580" y="867" width="1" height="11" fill="#000"/><text x="1581.5" y="876.3" font-size="10" font-family="Liberation Sans, Arial, sans-serif" fill="#000" stroke="#000" stroke-width="0.2" textLength="4.6" lengthAdjust="spacingAndGlyphs">2</text><rect x="1615" y="867" width="1" height="11" fill="#000"/><text x="1616.5" y="876.3" font-size="10" font-family="Liberation Sans, Arial, sans-serif" fill="#000" stroke="#000" stroke-width="0.2" textLength="4.6" lengthAdjust="spacingAndGlyphs">9</text><rect x="1651" y="867" width="1" height="11" fill="#000"/><text x="1652.5" y="876.3" font-size="10" font-family="Liberation Sans, Arial, sans-serif" fill="#000" stroke="#000" stroke-width="0.2" textLength="9.2" lengthAdjust="spacingAndGlyphs">16</text><rect x="1686" y="867" width="1" height="11" fill="#000"/><text x="1687.5" y="876.3" font-size="10" font-family="Liberation Sans, Arial, sans-serif" fill="#000" stroke="#000" stroke-width="0.2" textLength="9.2" lengthAdjust="spacingAndGlyphs">23</text><rect x="1707" y="867" width="1" height="11" fill="#000"/><text x="1708.5" y="876.3" font-size="10" font-family="Liberation Sans, Arial, sans-serif" fill="#000" stroke="#000" stroke-width="0.2" textLength="9.2" lengthAdjust="spacingAndGlyphs">30</text><rect x="1735" y="867" width="1" height="11" fill="#000"/><text x="1736.5" y="876.3" font-size="10" font-family="Liberation Sans, Arial, sans-serif" fill="#000" stroke="#000" stroke-width="0.2" textLength="4.6" lengthAdjust="spacingAndGlyphs">6</text><rect x="1771" y="867" width="1" height="11" fill="#000"/><text x="1772.5" y="876.3" font-size="10" font-family="Liberation Sans, Arial, sans-serif" fill="#000" stroke="#000" stroke-width="0.2" textLength="9.2" lengthAdjust="spacingAndGlyphs">13</text><rect x="1806" y="867" width="1" height="11" fill="#000"/><text x="1807.5" y="876.3" font-size="10" font-family="Liberation Sans, Arial, sans-serif" fill="#000" stroke="#000" stroke-width="0.2" textLength="9.2" lengthAdjust="spacingAndGlyphs">20</text><rect x="1842" y="867" width="1" height="11" fill="#000"/><text x="1843.5" y="876.3" font-size="10" font-family="Liberation Sans, Arial, sans-serif" fill="#000" stroke="#000" stroke-width="0.2" textLength="9.2" lengthAdjust="spacingAndGlyphs">27</text><rect x="88" y="867" width="1" height="22" fill="#000"/><text x="89.5" y="888" font-size="10" font-family="Liberation Sans, Arial, sans-serif" fill="#000" stroke="#000" stroke-width="0.2" textLength="33.6" lengthAdjust="spacingAndGlyphs">February</text><rect x="229" y="867" width="1" height="22" fill="#000"/><text x="230.5" y="888" font-size="10" font-family="Liberation Sans, Arial, sans-serif" fill="#000" stroke="#000" stroke-width="0.2" textLength="23.4" lengthAdjust="spacingAndGlyphs">March</text><rect x="370" y="867" width="1" height="22" fill="#000"/><text x="371.5" y="888" font-size="10" font-family="Liberation Sans, Arial, sans-serif" fill="#000" stroke="#000" stroke-width="0.2" textLength="16.8" lengthAdjust="spacingAndGlyphs">April</text><rect x="519" y="867" width="1" height="22" fill="#000"/><text x="520.5" y="888" font-size="10" font-family="Liberation Sans, Arial, sans-serif" fill="#000" stroke="#000" stroke-width="0.2" textLength="15.9" lengthAdjust="spacingAndGlyphs">May</text><rect x="668" y="867" width="1" height="22" fill="#000"/><text x="669.5" y="888" font-size="10" font-family="Liberation Sans, Arial, sans-serif" fill="#000" stroke="#000" stroke-width="0.2" textLength="18.2" lengthAdjust="spacingAndGlyphs">June</text><rect x="809" y="867" width="1" height="22" fill="#000"/><text x="810.5" y="888" font-size="10" font-family="Liberation Sans, Arial, sans-serif" fill="#000" stroke="#000" stroke-width="0.2" textLength="15.0" lengthAdjust="spacingAndGlyphs">July</text><rect x="971" y="867" width="1" height="22" fill="#000"/><text x="972.5" y="888" font-size="10" font-family="Liberation Sans, Arial, sans-serif" fill="#000" stroke="#000" stroke-width="0.2" textLength="26.1" lengthAdjust="spacingAndGlyphs">August</text><rect x="1121" y="867" width="1" height="22" fill="#000"/><text x="1122.5" y="888" font-size="10" font-family="Liberation Sans, Arial, sans-serif" fill="#000" stroke="#000" stroke-width="0.2" textLength="41.1" lengthAdjust="spacingAndGlyphs">September</text><rect x="1269" y="867" width="1" height="22" fill="#000"/><text x="1270.5" y="888" font-size="10" font-family="Liberation Sans, Arial, sans-serif" fill="#000" stroke="#000" stroke-width="0.2" textLength="29.9" lengthAdjust="spacingAndGlyphs">October</text><rect x="1431" y="867" width="1" height="22" fill="#000"/><text x="1432.5" y="888" font-size="10" font-family="Liberation Sans, Arial, sans-serif" fill="#000" stroke="#000" stroke-width="0.2" textLength="38.7" lengthAdjust="spacingAndGlyphs">November</text><rect x="1580" y="867" width="1" height="22" fill="#000"/><text x="1581.5" y="888" font-size="10" font-family="Liberation Sans, Arial, sans-serif" fill="#000" stroke="#000" stroke-width="0.2" textLength="38.7" lengthAdjust="spacingAndGlyphs">December</text><rect x="1722" y="867" width="1" height="22" fill="#000"/><text x="1723.5" y="888" font-size="10" font-family="Liberation Sans, Arial, sans-serif" fill="#000" stroke="#000" stroke-width="0.2" textLength="18.6" lengthAdjust="spacingAndGlyphs">2014</text></g><rect x="799" y="4" width="250" height="7" fill="#fff"/><rect x="858" y="682" width="132" height="13" fill="#fff"/><text x="799.5" y="10.2" font-size="9.3" font-family="Liberation Sans, Arial, sans-serif" fill="#000" stroke="#000" stroke-width="0.2" textLength="248" lengthAdjust="spacingAndGlyphs">PREMIER OIL (306.000, 318.000, 306.000, 315.400, +8.89999)</text><text x="858.8" y="691" font-size="10" font-family="Liberation Sans, Arial, sans-serif" fill="#000" stroke="#000" stroke-width="0.2" textLength="130" lengthAdjust="spacingAndGlyphs">Relative Strength Index (55.3080)</text><text x="1559.4" y="435" font-size="12.3" font-family="Liberation Sans, Arial, sans-serif" fill="#0000ff" font-weight="bold" textLength="165" lengthAdjust="spacingAndGlyphs">Possible 123 low formation ??</text><rect x="1686" y="481" width="157" height="1" fill="#0000ff"/><circle cx="1707.5" cy="469.5" r="4.7" fill="#0000ff" shape-rendering="auto"/><text x="1707.5" y="472.2" font-size="7.5" font-family="Liberation Sans, Arial, sans-serif" fill="#fff" font-weight="bold" text-anchor="middle">1</text><circle cx="1785.5" cy="467.5" r="4.7" fill="#0000ff" shape-rendering="auto"/><text x="1785.5" y="470.2" font-size="7.5" font-family="Liberation Sans, Arial, sans-serif" fill="#fff" font-weight="bold" text-anchor="middle">3</text><circle cx="1757.5" cy="580.5" r="4.7" fill="#0000ff" shape-rendering="auto"/><text x="1757.5" y="583.2" font-size="7.5" font-family="Liberation Sans, Arial, sans-serif" fill="#fff" font-weight="bold" text-anchor="middle">2</text><rect x="1559" y="516" width="1" height="1" fill="#0000ff"/><rect x="1558" y="517" width="3" height="1" fill="#0000ff"/><rect x="1557" y="518" width="5" height="1" fill="#0000ff"/><rect x="1556" y="519" width="7" height="1" fill="#0000ff"/><rect x="1559" y="520" width="2" height="5" fill="#0000ff"/></svg></body></html>
